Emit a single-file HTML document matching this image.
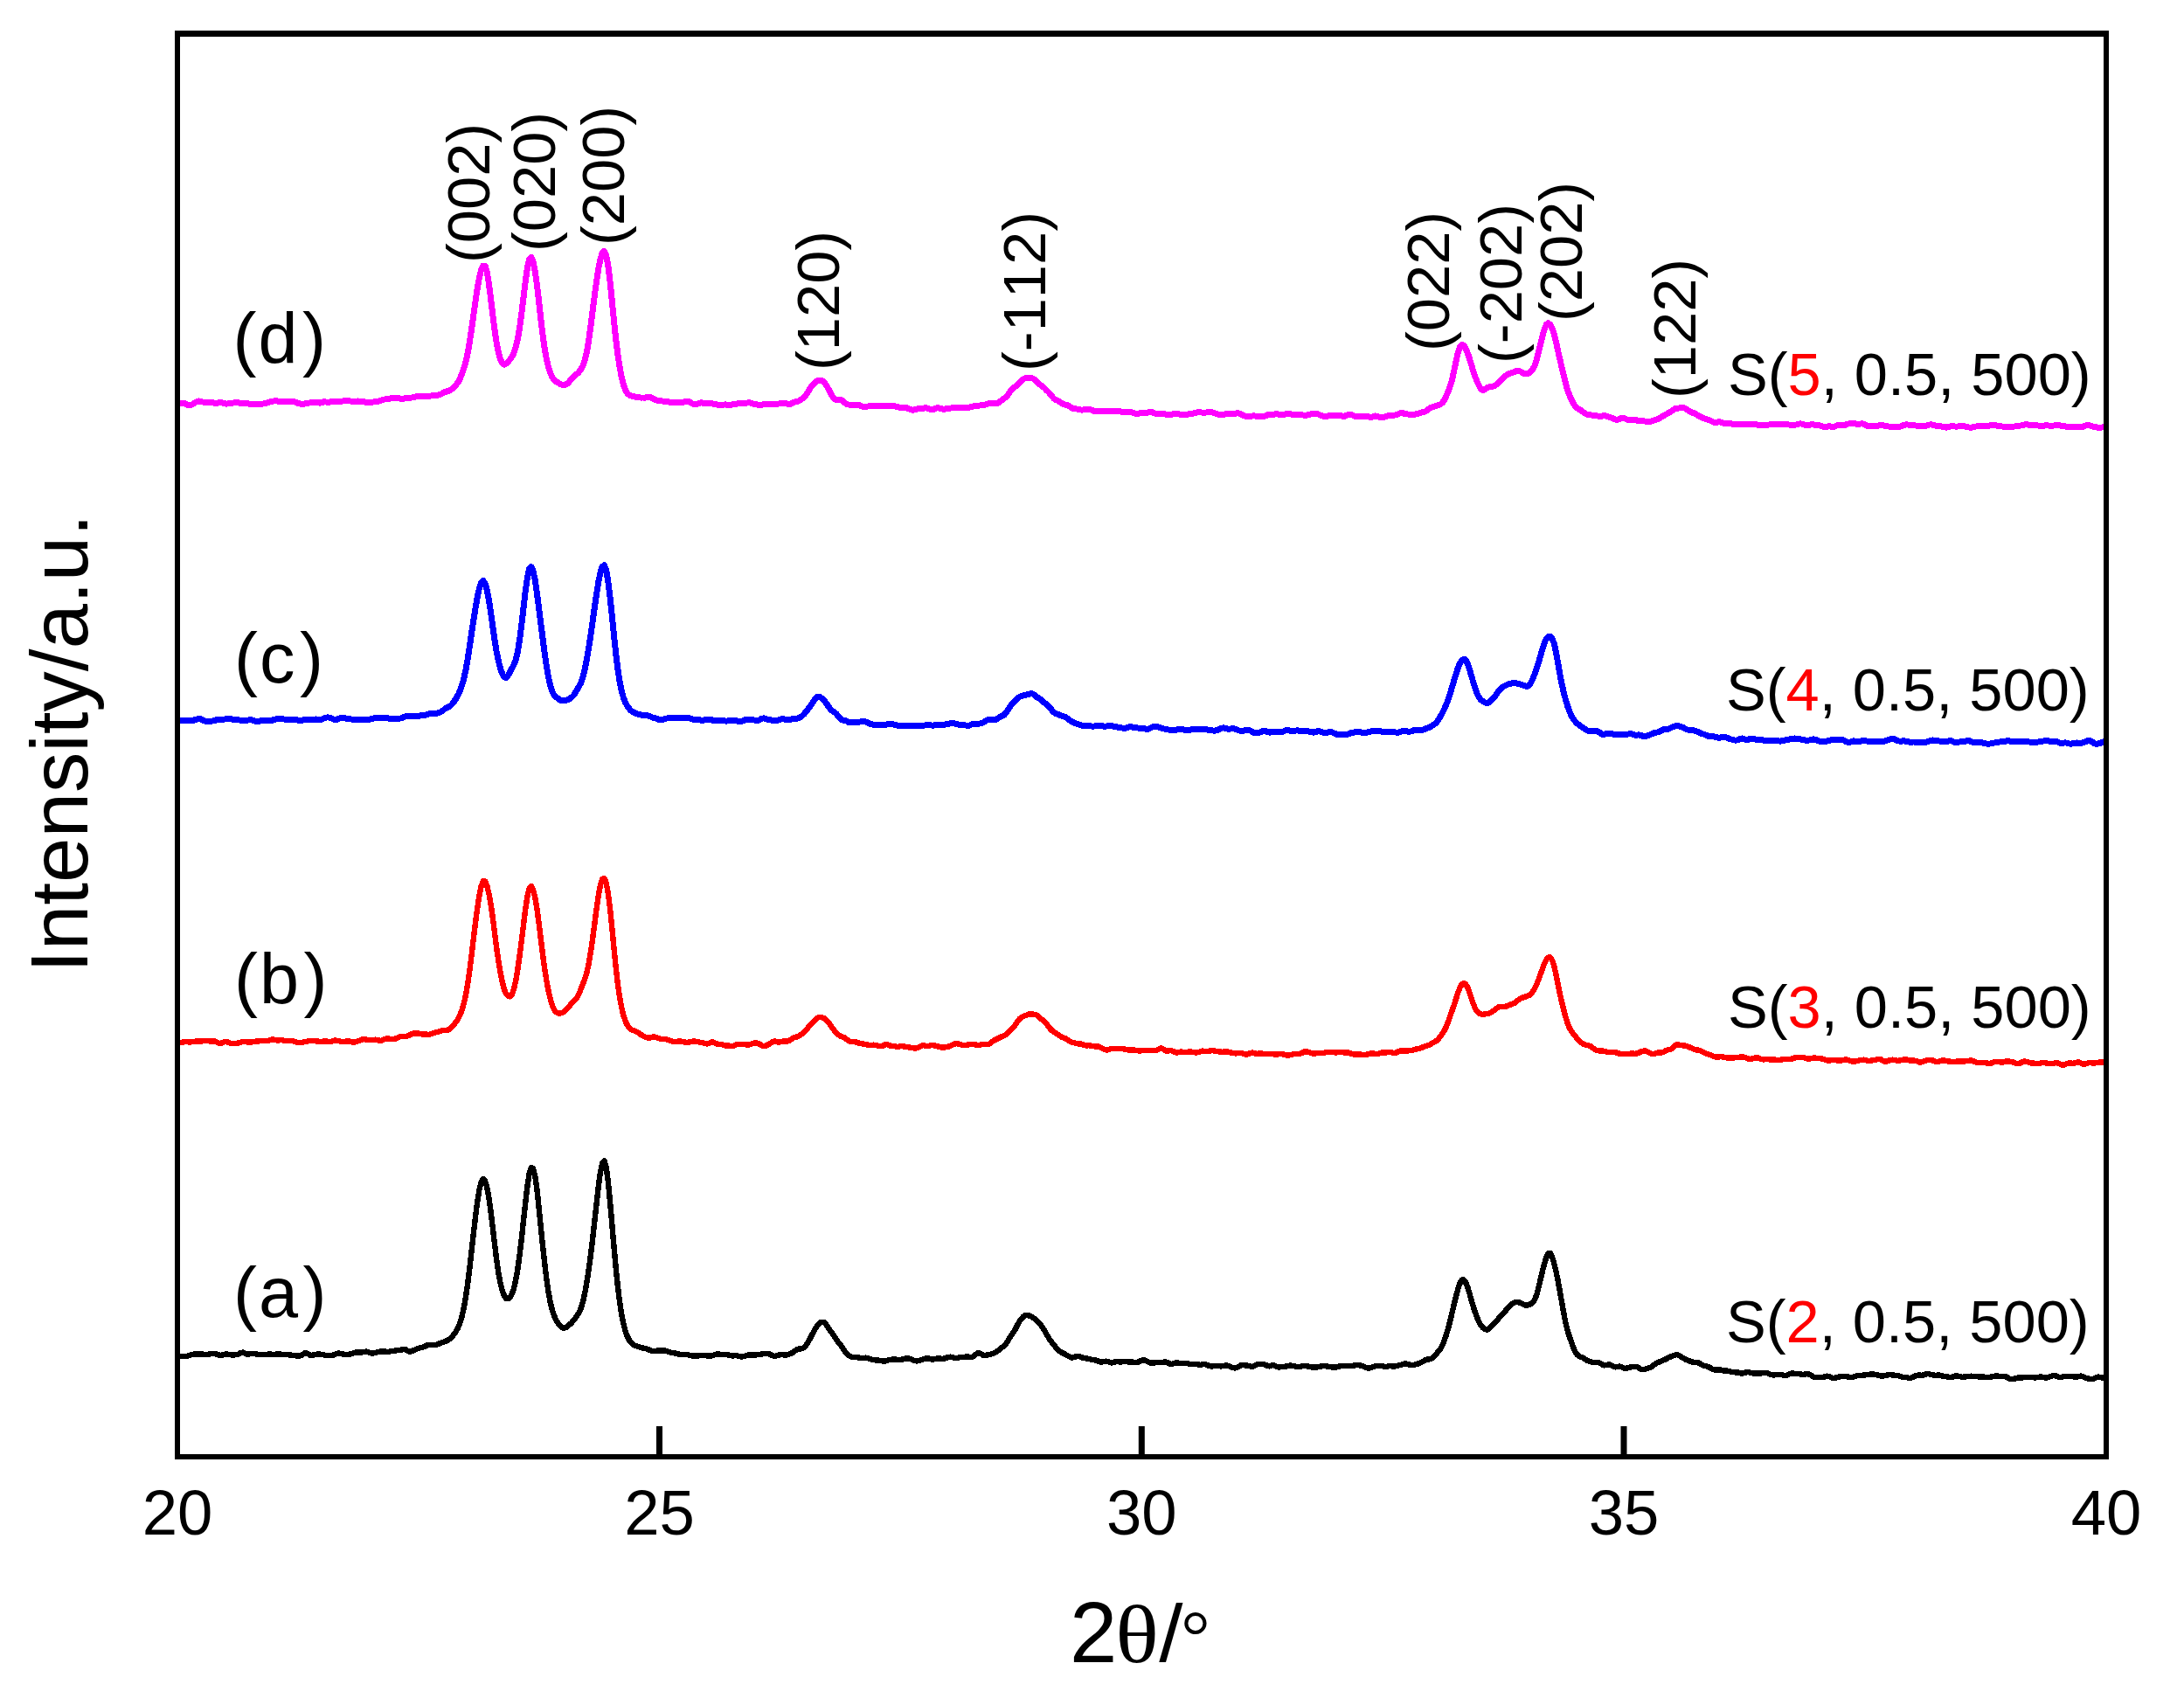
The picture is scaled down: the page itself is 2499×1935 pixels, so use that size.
<!DOCTYPE html>
<html lang="en"><head><meta charset="utf-8"><title>XRD patterns</title>
<style>
html,body{margin:0;padding:0;background:#fff;}
svg{display:block;}
text{font-family:"Liberation Sans",sans-serif;fill:#000;font-kerning:none;}
.ser{font-family:"Liberation Serif",serif;}
.r{fill:#f00;}
.cv{fill:none;stroke-linejoin:round;stroke-linecap:butt;shape-rendering:crispEdges;}
</style></head><body>
<svg width="2499" height="1935" viewBox="0 0 2499 1935">
<rect x="0" y="0" width="2499" height="1935" fill="#fff"/>

<g clip-path="url(#cp)">
<path class="cv" stroke="#000000" stroke-width="6.4" d="M203.0,1552.0 205.2,1552.0 207.4,1551.8 209.6,1551.9 211.8,1551.9 214.0,1551.7 216.2,1551.1 218.4,1550.4 220.6,1549.9 222.8,1549.4 225.0,1549.3 227.2,1549.4 229.4,1549.4 231.6,1549.5 233.8,1549.8 236.0,1550.0 238.2,1549.8 240.4,1549.4 242.6,1549.1 244.8,1548.9 247.0,1549.3 249.2,1550.1 251.4,1550.8 253.6,1550.8 255.8,1550.1 258.0,1549.5 260.2,1549.6 262.4,1550.1 264.6,1550.4 266.8,1550.4 269.0,1550.3 271.2,1550.1 273.4,1549.2 275.6,1548.0 277.8,1547.6 280.0,1548.4 282.2,1549.4 284.4,1549.6 286.6,1549.2 288.8,1548.7 291.0,1548.7 293.2,1549.4 295.4,1550.1 297.6,1550.3 299.8,1550.0 302.0,1549.8 304.2,1549.8 306.4,1549.7 308.6,1549.6 310.8,1549.7 313.0,1549.7 315.2,1549.7 317.4,1549.5 319.6,1549.5 321.8,1549.7 324.0,1549.9 326.2,1550.0 328.4,1550.2 330.6,1550.3 332.8,1550.6 335.0,1551.0 337.2,1551.2 339.4,1551.5 341.6,1551.7 343.8,1551.4 346.0,1550.1 348.2,1548.6 350.4,1548.4 352.6,1549.4 354.8,1550.6 357.0,1550.9 359.2,1550.4 361.4,1549.8 363.6,1549.5 365.8,1549.5 368.0,1549.8 370.2,1550.2 372.4,1550.8 374.6,1551.1 376.8,1551.0 379.0,1550.9 381.2,1550.6 383.4,1549.8 385.6,1548.9 387.8,1548.5 390.0,1548.9 392.2,1549.6 394.4,1549.8 396.6,1549.7 398.8,1549.7 401.0,1549.6 403.2,1549.0 405.4,1548.0 407.6,1547.5 409.8,1547.5 412.0,1547.7 414.2,1547.5 416.4,1547.0 418.6,1546.6 420.8,1546.9 423.0,1547.9 425.2,1548.6 427.4,1548.4 429.6,1547.8 431.8,1547.2 434.0,1546.8 436.2,1546.5 438.4,1546.4 440.6,1546.6 442.8,1546.9 445.0,1546.7 447.2,1546.3 449.4,1546.0 451.6,1545.7 453.8,1545.3 456.0,1545.0 458.2,1544.7 460.4,1544.3 462.6,1543.9 464.8,1544.6 467.0,1546.0 469.2,1546.7 471.4,1546.2 473.6,1545.0 475.8,1544.0 478.0,1543.2 480.2,1542.5 482.4,1542.0 484.6,1541.4 486.8,1540.4 489.0,1539.3 491.2,1539.1 493.4,1539.2 495.6,1539.3 497.8,1539.1 500.0,1538.6 502.2,1537.6 504.4,1536.6 506.6,1535.9 508.8,1535.2 511.0,1534.3 513.2,1533.1 515.4,1531.4 517.6,1529.1 519.8,1526.4 522.0,1523.3 524.2,1519.1 526.4,1513.5 528.6,1506.1 530.8,1496.4 533.0,1483.7 535.2,1468.4 537.4,1450.8 539.6,1431.5 541.8,1411.7 544.0,1392.5 546.2,1375.4 548.4,1361.6 550.6,1352.6 552.8,1348.9 555.0,1350.9 557.2,1358.5 559.4,1370.7 561.6,1386.7 563.8,1404.8 566.0,1423.5 568.2,1441.4 570.4,1456.7 572.6,1468.7 574.8,1477.2 577.0,1482.8 579.2,1485.8 581.4,1486.3 583.6,1484.6 585.8,1480.7 588.0,1474.2 590.2,1464.6 592.4,1452.0 594.6,1436.1 596.8,1417.3 599.0,1396.9 601.2,1376.4 603.4,1357.6 605.6,1343.3 607.8,1336.1 610.0,1336.9 612.2,1345.5 614.4,1361.0 616.6,1381.6 618.8,1404.0 621.0,1425.6 623.2,1445.6 625.4,1463.7 627.6,1478.9 629.8,1490.7 632.0,1499.4 634.2,1505.8 636.4,1510.6 638.6,1514.2 640.8,1517.2 643.0,1519.1 645.2,1519.7 647.4,1519.1 649.6,1517.5 651.8,1515.7 654.0,1513.6 656.2,1511.1 658.4,1508.2 660.6,1505.1 662.8,1501.6 665.0,1496.3 667.2,1488.7 669.4,1478.7 671.6,1466.4 673.8,1451.9 676.0,1435.4 678.2,1417.2 680.4,1397.4 682.6,1376.8 684.8,1357.2 687.0,1341.3 689.2,1331.1 691.4,1328.3 693.6,1335.4 695.8,1351.8 698.0,1374.4 700.2,1399.8 702.4,1425.3 704.6,1449.7 706.8,1471.3 709.0,1489.4 711.2,1503.7 713.4,1514.9 715.6,1523.3 717.8,1529.2 720.0,1533.5 722.2,1536.6 724.4,1538.7 726.6,1539.9 728.8,1540.5 731.0,1541.1 733.2,1541.9 735.4,1542.5 737.6,1542.8 739.8,1543.4 742.0,1544.3 744.2,1545.3 746.4,1545.8 748.6,1545.9 750.8,1545.7 753.0,1545.5 755.2,1545.6 757.4,1545.7 759.6,1545.5 761.8,1545.7 764.0,1546.4 766.2,1547.3 768.4,1547.9 770.6,1548.2 772.8,1548.6 775.0,1549.2 777.2,1549.7 779.4,1550.1 781.6,1550.1 783.8,1550.0 786.0,1550.0 788.2,1550.5 790.4,1551.1 792.6,1551.6 794.8,1551.7 797.0,1551.6 799.2,1551.4 801.4,1551.2 803.6,1551.1 805.8,1551.2 808.0,1551.3 810.2,1551.5 812.4,1551.7 814.6,1551.4 816.8,1550.7 819.0,1549.8 821.2,1549.4 823.4,1549.7 825.6,1550.2 827.8,1550.3 830.0,1550.0 832.2,1550.1 834.4,1550.8 836.6,1551.3 838.8,1551.4 841.0,1551.0 843.2,1551.2 845.4,1551.8 847.6,1552.4 849.8,1552.3 852.0,1551.7 854.2,1551.1 856.4,1550.5 858.6,1550.3 860.8,1550.3 863.0,1550.4 865.2,1550.4 867.4,1550.2 869.6,1549.8 871.8,1549.4 874.0,1549.1 876.2,1548.8 878.4,1548.8 880.6,1549.5 882.8,1550.7 885.0,1551.6 887.2,1551.8 889.4,1551.2 891.6,1550.5 893.8,1550.2 896.0,1550.3 898.2,1550.6 900.4,1550.3 902.6,1549.7 904.8,1548.9 907.0,1547.7 909.2,1546.0 911.4,1544.5 913.6,1543.7 915.8,1543.6 918.0,1543.1 920.2,1541.7 922.4,1539.3 924.6,1536.0 926.8,1532.0 929.0,1527.7 931.2,1523.3 933.4,1519.5 935.6,1516.3 937.8,1514.0 940.0,1512.7 942.2,1512.7 944.4,1514.4 946.6,1517.5 948.8,1521.0 951.0,1524.1 953.2,1527.1 955.4,1530.4 957.6,1533.7 959.8,1536.6 962.0,1539.4 964.2,1542.7 966.4,1545.9 968.6,1548.6 970.8,1550.8 973.0,1552.2 975.2,1552.8 977.4,1552.9 979.6,1553.1 981.8,1553.4 984.0,1553.8 986.2,1553.9 988.4,1553.8 990.6,1553.7 992.8,1554.2 995.0,1555.0 997.2,1555.6 999.4,1556.1 1001.6,1556.3 1003.8,1556.5 1006.0,1556.7 1008.2,1557.1 1010.4,1557.6 1012.6,1557.6 1014.8,1557.0 1017.0,1556.2 1019.2,1555.8 1021.4,1555.6 1023.6,1555.5 1025.8,1555.7 1028.0,1555.9 1030.2,1556.0 1032.4,1555.6 1034.6,1554.9 1036.8,1554.5 1039.0,1554.4 1041.2,1554.9 1043.4,1555.7 1045.6,1556.7 1047.8,1557.3 1050.0,1557.3 1052.2,1556.8 1054.4,1556.1 1056.6,1555.4 1058.8,1554.7 1061.0,1554.3 1063.2,1554.6 1065.4,1555.3 1067.6,1555.6 1069.8,1555.2 1072.0,1554.6 1074.2,1554.4 1076.4,1554.7 1078.6,1554.9 1080.8,1554.5 1083.0,1553.7 1085.2,1553.0 1087.4,1552.7 1089.6,1553.1 1091.8,1553.8 1094.0,1554.2 1096.2,1553.8 1098.4,1553.2 1100.6,1553.2 1102.8,1553.1 1105.0,1552.6 1107.2,1552.4 1109.4,1552.8 1111.6,1553.0 1113.8,1552.1 1116.0,1550.3 1118.2,1548.6 1120.4,1548.3 1122.6,1549.4 1124.8,1550.7 1127.0,1551.0 1129.2,1550.5 1131.4,1550.1 1133.6,1549.7 1135.8,1549.0 1138.0,1548.0 1140.2,1546.7 1142.4,1545.4 1144.6,1543.6 1146.8,1541.7 1149.0,1540.0 1151.2,1537.6 1153.4,1534.1 1155.6,1530.3 1157.8,1527.0 1160.0,1523.9 1162.2,1520.1 1164.4,1515.7 1166.6,1511.8 1168.8,1508.8 1171.0,1506.5 1173.2,1505.2 1175.4,1504.9 1177.6,1505.5 1179.8,1506.4 1182.0,1507.7 1184.2,1509.4 1186.4,1511.3 1188.6,1513.5 1190.8,1516.2 1193.0,1519.2 1195.2,1522.7 1197.4,1526.6 1199.6,1530.4 1201.8,1533.7 1204.0,1536.5 1206.2,1539.3 1208.4,1542.4 1210.6,1544.8 1212.8,1546.5 1215.0,1547.8 1217.2,1548.8 1219.4,1550.1 1221.6,1551.3 1223.8,1552.5 1226.0,1553.4 1228.2,1553.3 1230.4,1552.5 1232.6,1551.9 1234.8,1552.1 1237.0,1553.0 1239.2,1553.7 1241.4,1554.2 1243.6,1554.5 1245.8,1555.0 1248.0,1555.5 1250.2,1556.0 1252.4,1556.3 1254.6,1556.7 1256.8,1557.6 1259.0,1558.4 1261.2,1558.4 1263.4,1557.9 1265.6,1557.7 1267.8,1558.1 1270.0,1559.0 1272.2,1559.5 1274.4,1559.0 1276.6,1558.1 1278.8,1557.9 1281.0,1558.4 1283.2,1558.5 1285.4,1558.0 1287.6,1557.9 1289.8,1558.3 1292.0,1558.4 1294.2,1558.3 1296.4,1558.6 1298.6,1559.1 1300.8,1559.1 1303.0,1558.3 1305.2,1557.2 1307.4,1556.4 1309.6,1556.4 1311.8,1557.3 1314.0,1558.5 1316.2,1559.4 1318.4,1559.7 1320.6,1559.6 1322.8,1559.2 1325.0,1558.8 1327.2,1558.9 1329.4,1558.9 1331.6,1558.6 1333.8,1558.5 1336.0,1559.3 1338.2,1560.4 1340.4,1560.8 1342.6,1560.4 1344.8,1559.6 1347.0,1559.5 1349.2,1559.7 1351.4,1559.9 1353.6,1559.8 1355.8,1559.8 1358.0,1560.1 1360.2,1560.6 1362.4,1561.0 1364.6,1560.9 1366.8,1560.8 1369.0,1560.9 1371.2,1561.5 1373.4,1561.8 1375.6,1561.4 1377.8,1561.1 1380.0,1561.5 1382.2,1562.4 1384.4,1563.2 1386.6,1563.5 1388.8,1563.2 1391.0,1562.7 1393.2,1562.8 1395.4,1563.3 1397.6,1563.4 1399.8,1562.9 1402.0,1562.5 1404.2,1562.6 1406.4,1563.3 1408.6,1564.3 1410.8,1565.1 1413.0,1565.4 1415.2,1565.0 1417.4,1563.7 1419.6,1562.5 1421.8,1562.1 1424.0,1562.3 1426.2,1562.5 1428.4,1562.8 1430.6,1563.4 1432.8,1563.9 1435.0,1563.1 1437.2,1561.7 1439.4,1560.8 1441.6,1560.8 1443.8,1561.0 1446.0,1561.2 1448.2,1561.9 1450.4,1563.0 1452.6,1563.4 1454.8,1562.6 1457.0,1562.1 1459.2,1562.9 1461.4,1564.1 1463.6,1564.5 1465.8,1564.2 1468.0,1564.0 1470.2,1563.8 1472.4,1563.4 1474.6,1562.8 1476.8,1562.6 1479.0,1562.8 1481.2,1563.3 1483.4,1563.9 1485.6,1564.2 1487.8,1564.0 1490.0,1563.2 1492.2,1562.7 1494.4,1562.9 1496.6,1563.5 1498.8,1564.0 1501.0,1564.4 1503.2,1564.6 1505.4,1564.6 1507.6,1564.3 1509.8,1563.8 1512.0,1563.4 1514.2,1563.1 1516.4,1563.2 1518.6,1563.5 1520.8,1564.0 1523.0,1564.3 1525.2,1564.5 1527.4,1564.6 1529.6,1564.3 1531.8,1563.7 1534.0,1563.1 1536.2,1562.7 1538.4,1562.7 1540.6,1562.7 1542.8,1562.8 1545.0,1563.0 1547.2,1563.0 1549.4,1562.5 1551.6,1562.1 1553.8,1562.2 1556.0,1562.4 1558.2,1562.8 1560.4,1563.6 1562.6,1564.8 1564.8,1565.5 1567.0,1565.5 1569.2,1564.9 1571.4,1564.1 1573.6,1563.3 1575.8,1563.0 1578.0,1562.9 1580.2,1562.9 1582.4,1563.4 1584.6,1563.9 1586.8,1563.8 1589.0,1563.2 1591.2,1563.1 1593.4,1563.5 1595.6,1563.5 1597.8,1563.0 1600.0,1562.5 1602.2,1562.1 1604.4,1561.3 1606.6,1560.6 1608.8,1560.5 1611.0,1561.0 1613.2,1561.8 1615.4,1562.1 1617.6,1561.8 1619.8,1561.3 1622.0,1560.7 1624.2,1560.0 1626.4,1559.0 1628.6,1557.7 1630.8,1556.3 1633.0,1555.6 1635.2,1555.4 1637.4,1555.0 1639.6,1553.4 1641.8,1551.1 1644.0,1548.7 1646.2,1546.1 1648.4,1543.0 1650.6,1538.9 1652.8,1533.5 1655.0,1527.0 1657.2,1519.6 1659.4,1511.2 1661.6,1501.9 1663.8,1492.4 1666.0,1483.4 1668.2,1475.3 1670.4,1468.6 1672.6,1464.7 1674.8,1464.3 1677.0,1467.2 1679.2,1472.6 1681.4,1479.9 1683.6,1487.9 1685.8,1495.3 1688.0,1501.9 1690.2,1507.9 1692.4,1513.1 1694.6,1516.9 1696.8,1519.4 1699.0,1520.9 1701.2,1521.6 1703.4,1520.7 1705.6,1518.5 1707.8,1515.9 1710.0,1513.7 1712.2,1511.7 1714.4,1509.3 1716.6,1506.4 1718.8,1503.9 1721.0,1501.7 1723.2,1499.3 1725.4,1496.6 1727.6,1494.3 1729.8,1492.3 1732.0,1490.9 1734.2,1490.1 1736.4,1490.0 1738.6,1490.5 1740.8,1491.4 1743.0,1492.6 1745.2,1493.5 1747.4,1493.6 1749.6,1493.0 1751.8,1491.9 1754.0,1490.2 1756.2,1486.9 1758.4,1481.2 1760.6,1472.9 1762.8,1463.5 1765.0,1454.3 1767.2,1445.9 1769.4,1438.7 1771.6,1434.1 1773.8,1433.8 1776.0,1438.2 1778.2,1445.5 1780.4,1454.6 1782.6,1465.1 1784.8,1477.1 1787.0,1489.7 1789.2,1502.2 1791.4,1513.5 1793.6,1522.6 1795.8,1529.5 1798.0,1535.7 1800.2,1541.7 1802.4,1546.8 1804.6,1550.2 1806.8,1551.9 1809.0,1552.8 1811.2,1553.7 1813.4,1555.1 1815.6,1556.6 1817.8,1557.4 1820.0,1558.1 1822.2,1558.8 1824.4,1559.2 1826.6,1559.1 1828.8,1559.0 1831.0,1559.9 1833.2,1561.5 1835.4,1562.4 1837.6,1562.1 1839.8,1561.5 1842.0,1561.5 1844.2,1562.5 1846.4,1563.8 1848.6,1564.4 1850.8,1564.0 1853.0,1563.6 1855.2,1564.2 1857.4,1565.4 1859.6,1565.9 1861.8,1565.5 1864.0,1564.8 1866.2,1564.4 1868.4,1564.1 1870.6,1563.8 1872.8,1564.0 1875.0,1565.1 1877.2,1566.5 1879.4,1567.2 1881.6,1566.9 1883.8,1566.3 1886.0,1565.6 1888.2,1564.8 1890.4,1563.6 1892.6,1561.8 1894.8,1560.2 1897.0,1559.1 1899.2,1558.3 1901.4,1557.3 1903.6,1556.4 1905.8,1555.4 1908.0,1554.2 1910.2,1553.0 1912.4,1552.2 1914.6,1551.4 1916.8,1550.5 1919.0,1550.2 1921.2,1551.1 1923.4,1552.6 1925.6,1553.9 1927.8,1555.1 1930.0,1556.2 1932.2,1557.0 1934.4,1557.8 1936.6,1558.5 1938.8,1559.0 1941.0,1559.0 1943.2,1559.3 1945.4,1560.5 1947.6,1562.0 1949.8,1562.9 1952.0,1563.3 1954.2,1563.9 1956.4,1564.9 1958.6,1566.2 1960.8,1567.2 1963.0,1567.5 1965.2,1567.3 1967.4,1567.3 1969.6,1567.8 1971.8,1568.4 1974.0,1568.5 1976.2,1568.5 1978.4,1569.0 1980.6,1569.7 1982.8,1570.2 1985.0,1570.3 1987.2,1570.3 1989.4,1570.7 1991.6,1571.3 1993.8,1571.6 1996.0,1571.1 1998.2,1570.2 2000.4,1570.1 2002.6,1570.6 2004.8,1571.3 2007.0,1571.4 2009.2,1571.3 2011.4,1571.4 2013.6,1571.4 2015.8,1571.3 2018.0,1570.8 2020.2,1570.7 2022.4,1571.4 2024.6,1572.3 2026.8,1573.1 2029.0,1573.5 2031.2,1573.3 2033.4,1573.0 2035.6,1572.8 2037.8,1573.0 2040.0,1573.6 2042.2,1573.9 2044.4,1573.7 2046.6,1572.8 2048.8,1571.8 2051.0,1571.5 2053.2,1571.7 2055.4,1571.9 2057.6,1571.9 2059.8,1572.3 2062.0,1572.9 2064.2,1572.8 2066.4,1572.3 2068.6,1572.2 2070.8,1572.9 2073.0,1574.3 2075.2,1575.6 2077.4,1576.2 2079.6,1576.3 2081.8,1576.1 2084.0,1576.0 2086.2,1575.9 2088.4,1575.3 2090.6,1574.7 2092.8,1575.0 2095.0,1576.1 2097.2,1577.0 2099.4,1576.9 2101.6,1576.2 2103.8,1575.6 2106.0,1575.3 2108.2,1575.2 2110.4,1574.9 2112.6,1575.0 2114.8,1575.6 2117.0,1576.1 2119.2,1576.1 2121.4,1575.4 2123.6,1574.6 2125.8,1574.1 2128.0,1574.0 2130.2,1573.8 2132.4,1573.6 2134.6,1573.3 2136.8,1573.0 2139.0,1572.7 2141.2,1572.4 2143.4,1572.5 2145.6,1572.8 2147.8,1573.3 2150.0,1573.9 2152.2,1574.5 2154.4,1574.6 2156.6,1574.2 2158.8,1573.7 2161.0,1573.2 2163.2,1573.2 2165.4,1573.4 2167.6,1573.7 2169.8,1573.9 2172.0,1574.2 2174.2,1575.0 2176.4,1575.7 2178.6,1575.9 2180.8,1576.0 2183.0,1576.5 2185.2,1576.9 2187.4,1576.5 2189.6,1575.4 2191.8,1574.3 2194.0,1573.7 2196.2,1573.6 2198.4,1573.8 2200.6,1573.5 2202.8,1572.7 2205.0,1572.2 2207.2,1572.3 2209.4,1572.8 2211.6,1573.3 2213.8,1573.7 2216.0,1573.7 2218.2,1573.5 2220.4,1573.8 2222.6,1574.5 2224.8,1575.0 2227.0,1575.2 2229.2,1575.6 2231.4,1576.0 2233.6,1575.9 2235.8,1575.0 2238.0,1574.3 2240.2,1574.5 2242.4,1575.1 2244.6,1575.7 2246.8,1575.7 2249.0,1575.4 2251.2,1575.0 2253.4,1574.8 2255.6,1574.7 2257.8,1574.8 2260.0,1575.0 2262.2,1575.2 2264.4,1575.4 2266.6,1575.5 2268.8,1575.6 2271.0,1575.7 2273.2,1575.9 2275.4,1575.9 2277.6,1575.7 2279.8,1575.2 2282.0,1574.7 2284.2,1574.5 2286.4,1574.7 2288.6,1575.1 2290.8,1575.1 2293.0,1574.8 2295.2,1575.3 2297.4,1576.5 2299.6,1577.8 2301.8,1578.3 2304.0,1578.0 2306.2,1577.3 2308.4,1576.6 2310.6,1576.4 2312.8,1576.4 2315.0,1576.3 2317.2,1576.2 2319.4,1576.2 2321.6,1576.2 2323.8,1576.0 2326.0,1576.1 2328.2,1576.4 2330.4,1576.3 2332.6,1575.8 2334.8,1575.3 2337.0,1575.7 2339.2,1576.3 2341.4,1576.5 2343.6,1576.1 2345.8,1575.3 2348.0,1574.4 2350.2,1574.0 2352.4,1574.5 2354.6,1575.4 2356.8,1576.0 2359.0,1575.8 2361.2,1575.2 2363.4,1574.8 2365.6,1574.8 2367.8,1575.0 2370.0,1575.0 2372.2,1575.3 2374.4,1575.6 2376.6,1575.5 2378.8,1574.9 2381.0,1574.5 2383.2,1575.0 2385.4,1576.3 2387.6,1577.2 2389.8,1577.5 2392.0,1577.8 2394.2,1578.0 2396.4,1577.4 2398.6,1576.3 2400.8,1575.6 2403.0,1575.8 2405.2,1576.4 2407.4,1577.0 2409.6,1577.4"/>
<path class="cv" stroke="#ff0000" stroke-width="6.4" d="M203.0,1193.0 205.2,1193.4 207.4,1193.1 209.6,1192.5 211.8,1192.1 214.0,1192.2 216.2,1192.5 218.4,1192.4 220.6,1192.1 222.8,1191.8 225.0,1191.4 227.2,1191.3 229.4,1191.4 231.6,1191.4 233.8,1190.9 236.0,1190.7 238.2,1191.1 240.4,1191.6 242.6,1191.4 244.8,1191.3 247.0,1192.0 249.2,1193.3 251.4,1194.0 253.6,1193.5 255.8,1192.5 258.0,1192.1 260.2,1192.4 262.4,1193.2 264.6,1193.9 266.8,1194.2 269.0,1194.1 271.2,1193.8 273.4,1193.3 275.6,1192.6 277.8,1192.0 280.0,1192.0 282.2,1192.3 284.4,1192.5 286.6,1192.5 288.8,1192.3 291.0,1191.9 293.2,1191.6 295.4,1191.4 297.6,1191.3 299.8,1191.2 302.0,1191.2 304.2,1191.3 306.4,1191.0 308.6,1190.3 310.8,1189.6 313.0,1189.5 315.2,1190.1 317.4,1190.6 319.6,1190.4 321.8,1190.1 324.0,1190.5 326.2,1191.2 328.4,1191.3 330.6,1190.8 332.8,1190.7 335.0,1191.2 337.2,1192.0 339.4,1192.7 341.6,1193.2 343.8,1193.2 346.0,1192.7 348.2,1192.2 350.4,1191.9 352.6,1191.4 354.8,1190.9 357.0,1190.8 359.2,1191.1 361.4,1191.3 363.6,1191.6 365.8,1191.8 368.0,1191.9 370.2,1191.6 372.4,1191.3 374.6,1191.7 376.8,1192.3 379.0,1191.9 381.2,1190.9 383.4,1190.5 385.6,1190.8 387.8,1191.3 390.0,1191.7 392.2,1192.0 394.4,1191.9 396.6,1191.5 398.8,1191.4 401.0,1191.7 403.2,1192.4 405.4,1192.6 407.6,1192.2 409.8,1191.3 412.0,1190.5 414.2,1189.6 416.4,1189.2 418.6,1189.4 420.8,1189.9 423.0,1190.2 425.2,1190.1 427.4,1189.8 429.6,1189.7 431.8,1190.0 434.0,1190.7 436.2,1190.8 438.4,1189.9 440.6,1188.8 442.8,1188.3 445.0,1188.5 447.2,1189.0 449.4,1189.1 451.6,1188.9 453.8,1188.0 456.0,1186.8 458.2,1186.0 460.4,1186.0 462.6,1186.2 464.8,1186.0 467.0,1185.3 469.2,1184.2 471.4,1183.1 473.6,1182.5 475.8,1182.3 478.0,1182.4 480.2,1182.8 482.4,1183.3 484.6,1183.5 486.8,1183.6 489.0,1183.7 491.2,1183.7 493.4,1183.1 495.6,1182.1 497.8,1181.5 500.0,1181.1 502.2,1180.5 504.4,1179.6 506.6,1178.8 508.8,1178.7 511.0,1178.8 513.2,1178.4 515.4,1177.1 517.6,1174.8 519.8,1172.0 522.0,1169.0 524.2,1165.8 526.4,1161.4 528.6,1155.6 530.8,1148.1 533.0,1138.3 535.2,1125.7 537.4,1110.5 539.6,1093.0 541.8,1074.2 544.0,1055.8 546.2,1039.2 548.4,1025.2 550.6,1014.3 552.8,1008.3 555.0,1008.3 557.2,1013.4 559.4,1022.4 561.6,1034.6 563.8,1050.0 566.0,1067.5 568.2,1084.8 570.4,1099.9 572.6,1112.8 574.8,1123.8 577.0,1132.3 579.2,1137.4 581.4,1139.8 583.6,1140.3 585.8,1137.9 588.0,1131.8 590.2,1122.0 592.4,1109.0 594.6,1093.5 596.8,1076.4 599.0,1058.5 601.2,1040.9 603.4,1026.0 605.6,1016.5 607.8,1014.1 610.0,1018.1 612.2,1026.7 614.4,1039.7 616.6,1056.0 618.8,1074.0 621.0,1092.0 623.2,1108.4 625.4,1122.4 627.6,1133.9 629.8,1143.4 632.0,1150.7 634.2,1155.6 636.4,1158.3 638.6,1159.4 640.8,1159.6 643.0,1159.0 645.2,1157.8 647.4,1155.9 649.6,1153.4 651.8,1150.8 654.0,1148.4 656.2,1146.2 658.4,1143.8 660.6,1140.8 662.8,1136.5 665.0,1130.9 667.2,1125.3 669.4,1119.5 671.6,1112.2 673.8,1102.1 676.0,1089.0 678.2,1073.5 680.4,1056.7 682.6,1039.6 684.8,1024.1 687.0,1012.6 689.2,1006.1 691.4,1004.9 693.6,1010.1 695.8,1021.8 698.0,1039.1 700.2,1060.5 702.4,1083.9 704.6,1106.2 706.8,1125.2 709.0,1140.7 711.2,1152.9 713.4,1162.1 715.6,1168.6 717.8,1173.2 720.0,1176.4 722.2,1178.1 724.4,1179.0 726.6,1179.8 728.8,1180.7 731.0,1182.1 733.2,1183.8 735.4,1185.3 737.6,1186.4 739.8,1187.2 742.0,1187.7 744.2,1187.5 746.4,1186.7 748.6,1186.5 750.8,1187.0 753.0,1187.8 755.2,1188.6 757.4,1189.1 759.6,1189.3 761.8,1189.2 764.0,1189.7 766.2,1190.6 768.4,1191.4 770.6,1191.9 772.8,1191.9 775.0,1191.7 777.2,1191.6 779.4,1191.7 781.6,1192.2 783.8,1192.6 786.0,1192.8 788.2,1192.6 790.4,1192.0 792.6,1191.7 794.8,1191.5 797.0,1191.8 799.2,1192.3 801.4,1192.8 803.6,1193.2 805.8,1193.7 808.0,1194.3 810.2,1194.3 812.4,1193.2 814.6,1192.4 816.8,1192.8 819.0,1194.0 821.2,1194.7 823.4,1194.8 825.6,1195.1 827.8,1195.9 830.0,1196.5 832.2,1196.5 834.4,1196.6 836.6,1197.1 838.8,1197.0 841.0,1196.1 843.2,1195.1 845.4,1194.8 847.6,1194.8 849.8,1194.8 852.0,1195.1 854.2,1195.6 856.4,1195.7 858.6,1195.1 860.8,1194.3 863.0,1193.6 865.2,1193.4 867.4,1193.9 869.6,1195.0 871.8,1196.4 874.0,1197.0 876.2,1196.7 878.4,1195.7 880.6,1194.3 882.8,1192.9 885.0,1191.7 887.2,1191.6 889.4,1192.3 891.6,1192.6 893.8,1192.1 896.0,1191.4 898.2,1191.3 900.4,1191.5 902.6,1191.0 904.8,1189.7 907.0,1188.2 909.2,1187.0 911.4,1186.5 913.6,1185.9 915.8,1184.6 918.0,1182.7 920.2,1180.7 922.4,1178.7 924.6,1176.0 926.8,1173.0 929.0,1170.6 931.2,1168.5 933.4,1166.5 935.6,1164.7 937.8,1163.8 940.0,1164.1 942.2,1164.8 944.4,1166.2 946.6,1168.4 948.8,1171.2 951.0,1174.4 953.2,1177.4 955.4,1180.0 957.6,1182.3 959.8,1184.4 962.0,1185.9 964.2,1186.7 966.4,1187.5 968.6,1189.1 970.8,1190.9 973.0,1192.0 975.2,1192.1 977.4,1192.0 979.6,1192.5 981.8,1193.3 984.0,1193.9 986.2,1194.3 988.4,1194.7 990.6,1195.2 992.8,1195.6 995.0,1195.8 997.2,1195.8 999.4,1195.7 1001.6,1195.9 1003.8,1196.4 1006.0,1197.0 1008.2,1197.2 1010.4,1196.6 1012.6,1195.4 1014.8,1195.0 1017.0,1195.9 1019.2,1196.8 1021.4,1196.9 1023.6,1197.2 1025.8,1197.7 1028.0,1197.7 1030.2,1197.2 1032.4,1197.1 1034.6,1197.5 1036.8,1197.9 1039.0,1198.2 1041.2,1198.7 1043.4,1199.1 1045.6,1199.4 1047.8,1199.4 1050.0,1199.0 1052.2,1197.9 1054.4,1196.6 1056.6,1196.1 1058.8,1196.7 1061.0,1197.2 1063.2,1196.7 1065.4,1195.9 1067.6,1195.8 1069.8,1196.6 1072.0,1197.2 1074.2,1197.7 1076.4,1198.4 1078.6,1198.6 1080.8,1198.4 1083.0,1197.9 1085.2,1197.6 1087.4,1197.0 1089.6,1195.8 1091.8,1194.7 1094.0,1194.2 1096.2,1194.4 1098.4,1195.0 1100.6,1195.8 1102.8,1196.2 1105.0,1196.0 1107.2,1195.6 1109.4,1195.1 1111.6,1194.8 1113.8,1194.9 1116.0,1195.4 1118.2,1196.0 1120.4,1196.0 1122.6,1195.4 1124.8,1194.8 1127.0,1194.8 1129.2,1195.0 1131.4,1194.7 1133.6,1193.4 1135.8,1191.7 1138.0,1190.2 1140.2,1189.2 1142.4,1188.1 1144.6,1186.9 1146.8,1185.9 1149.0,1184.9 1151.2,1183.7 1153.4,1181.7 1155.6,1179.3 1157.8,1177.3 1160.0,1175.0 1162.2,1172.0 1164.4,1168.7 1166.6,1165.9 1168.8,1164.2 1171.0,1163.0 1173.2,1162.1 1175.4,1161.2 1177.6,1160.5 1179.8,1160.4 1182.0,1160.6 1184.2,1160.8 1186.4,1161.6 1188.6,1163.2 1190.8,1165.5 1193.0,1167.4 1195.2,1169.3 1197.4,1171.6 1199.6,1174.4 1201.8,1177.3 1204.0,1179.5 1206.2,1181.0 1208.4,1182.3 1210.6,1183.9 1212.8,1185.5 1215.0,1186.8 1217.2,1187.7 1219.4,1188.5 1221.6,1189.9 1223.8,1191.5 1226.0,1192.6 1228.2,1193.1 1230.4,1193.7 1232.6,1194.3 1234.8,1194.4 1237.0,1194.5 1239.2,1195.4 1241.4,1196.3 1243.6,1196.4 1245.8,1196.2 1248.0,1196.5 1250.2,1197.0 1252.4,1197.3 1254.6,1197.3 1256.8,1197.6 1259.0,1198.4 1261.2,1199.7 1263.4,1200.8 1265.6,1201.4 1267.8,1201.3 1270.0,1200.6 1272.2,1200.0 1274.4,1199.9 1276.6,1199.9 1278.8,1199.7 1281.0,1199.7 1283.2,1200.0 1285.4,1200.4 1287.6,1200.7 1289.8,1201.2 1292.0,1201.6 1294.2,1201.6 1296.4,1201.6 1298.6,1201.7 1300.8,1202.1 1303.0,1202.4 1305.2,1202.4 1307.4,1202.2 1309.6,1202.0 1311.8,1202.0 1314.0,1202.0 1316.2,1201.8 1318.4,1201.9 1320.6,1202.1 1322.8,1202.1 1325.0,1201.1 1327.2,1199.7 1329.4,1199.5 1331.6,1200.9 1333.8,1202.4 1336.0,1202.7 1338.2,1202.1 1340.4,1202.1 1342.6,1203.1 1344.8,1204.3 1347.0,1204.5 1349.2,1203.9 1351.4,1203.5 1353.6,1203.9 1355.8,1204.3 1358.0,1204.0 1360.2,1203.6 1362.4,1203.5 1364.6,1203.8 1366.8,1204.3 1369.0,1204.5 1371.2,1204.1 1373.4,1203.2 1375.6,1202.6 1377.8,1202.8 1380.0,1203.1 1382.2,1203.0 1384.4,1202.6 1386.6,1202.2 1388.8,1202.3 1391.0,1202.8 1393.2,1203.1 1395.4,1203.4 1397.6,1203.7 1399.8,1203.7 1402.0,1203.4 1404.2,1203.3 1406.4,1203.9 1408.6,1204.6 1410.8,1205.0 1413.0,1205.3 1415.2,1205.3 1417.4,1205.0 1419.6,1205.0 1421.8,1205.5 1424.0,1206.3 1426.2,1206.6 1428.4,1206.0 1430.6,1205.0 1432.8,1204.6 1435.0,1205.2 1437.2,1205.7 1439.4,1205.7 1441.6,1205.5 1443.8,1205.5 1446.0,1205.8 1448.2,1206.0 1450.4,1206.1 1452.6,1205.8 1454.8,1205.8 1457.0,1206.3 1459.2,1206.7 1461.4,1206.5 1463.6,1205.8 1465.8,1205.7 1468.0,1206.3 1470.2,1207.1 1472.4,1207.5 1474.6,1207.5 1476.8,1207.2 1479.0,1206.4 1481.2,1205.7 1483.4,1205.7 1485.6,1206.0 1487.8,1205.7 1490.0,1204.7 1492.2,1203.6 1494.4,1203.3 1496.6,1203.6 1498.8,1204.3 1501.0,1205.2 1503.2,1205.7 1505.4,1205.4 1507.6,1204.8 1509.8,1204.8 1512.0,1205.2 1514.2,1205.1 1516.4,1204.3 1518.6,1203.9 1520.8,1203.9 1523.0,1204.1 1525.2,1204.2 1527.4,1204.3 1529.6,1204.3 1531.8,1204.0 1534.0,1203.8 1536.2,1204.2 1538.4,1204.5 1540.6,1204.5 1542.8,1204.6 1545.0,1205.3 1547.2,1206.1 1549.4,1206.5 1551.6,1206.4 1553.8,1206.4 1556.0,1206.5 1558.2,1206.7 1560.4,1206.9 1562.6,1206.9 1564.8,1206.5 1567.0,1205.9 1569.2,1205.4 1571.4,1205.4 1573.6,1205.8 1575.8,1206.1 1578.0,1205.6 1580.2,1204.7 1582.4,1204.4 1584.6,1204.4 1586.8,1204.3 1589.0,1203.9 1591.2,1204.1 1593.4,1204.7 1595.6,1204.9 1597.8,1204.4 1600.0,1203.2 1602.2,1202.3 1604.4,1202.3 1606.6,1202.5 1608.8,1202.6 1611.0,1202.4 1613.2,1202.2 1615.4,1201.9 1617.6,1201.3 1619.8,1200.7 1622.0,1200.3 1624.2,1199.9 1626.4,1199.1 1628.6,1198.0 1630.8,1197.1 1633.0,1196.5 1635.2,1195.8 1637.4,1194.6 1639.6,1193.3 1641.8,1192.1 1644.0,1190.7 1646.2,1188.5 1648.4,1185.7 1650.6,1182.6 1652.8,1179.0 1655.0,1174.5 1657.2,1168.8 1659.4,1162.5 1661.6,1156.3 1663.8,1149.9 1666.0,1143.0 1668.2,1136.2 1670.4,1130.5 1672.6,1126.5 1674.8,1124.8 1677.0,1126.1 1679.2,1129.8 1681.4,1135.3 1683.6,1141.9 1685.8,1148.6 1688.0,1154.0 1690.2,1157.4 1692.4,1159.4 1694.6,1160.5 1696.8,1160.8 1699.0,1160.5 1701.2,1160.1 1703.4,1159.7 1705.6,1158.9 1707.8,1157.5 1710.0,1155.8 1712.2,1153.9 1714.4,1152.5 1716.6,1152.0 1718.8,1152.0 1721.0,1152.1 1723.2,1151.6 1725.4,1150.7 1727.6,1149.9 1729.8,1149.0 1732.0,1148.3 1734.2,1147.0 1736.4,1144.9 1738.6,1143.2 1740.8,1142.1 1743.0,1141.3 1745.2,1140.6 1747.4,1139.8 1749.6,1139.0 1751.8,1137.3 1754.0,1134.5 1756.2,1130.7 1758.4,1126.0 1760.6,1120.6 1762.8,1114.5 1765.0,1108.3 1767.2,1102.5 1769.4,1098.0 1771.6,1095.5 1773.8,1095.5 1776.0,1098.6 1778.2,1105.1 1780.4,1114.6 1782.6,1125.9 1784.8,1136.8 1787.0,1146.5 1789.2,1155.4 1791.4,1163.6 1793.6,1170.8 1795.8,1176.1 1798.0,1179.9 1800.2,1182.9 1802.4,1185.5 1804.6,1188.5 1806.8,1191.2 1809.0,1193.0 1811.2,1194.3 1813.4,1195.4 1815.6,1196.1 1817.8,1196.4 1820.0,1197.1 1822.2,1198.8 1824.4,1200.6 1826.6,1201.8 1828.8,1202.3 1831.0,1202.4 1833.2,1202.5 1835.4,1202.9 1837.6,1203.4 1839.8,1204.0 1842.0,1204.1 1844.2,1204.0 1846.4,1204.0 1848.6,1204.2 1850.8,1204.9 1853.0,1205.7 1855.2,1206.2 1857.4,1206.1 1859.6,1206.0 1861.8,1206.1 1864.0,1205.9 1866.2,1205.6 1868.4,1205.6 1870.6,1205.8 1872.8,1205.6 1875.0,1204.7 1877.2,1203.6 1879.4,1202.8 1881.6,1202.4 1883.8,1202.8 1886.0,1203.8 1888.2,1205.1 1890.4,1205.9 1892.6,1205.9 1894.8,1205.2 1897.0,1204.6 1899.2,1204.6 1901.4,1204.5 1903.6,1203.6 1905.8,1202.4 1908.0,1201.4 1910.2,1201.1 1912.4,1200.2 1914.6,1198.1 1916.8,1196.1 1919.0,1195.2 1921.2,1195.6 1923.4,1196.1 1925.6,1196.3 1927.8,1196.5 1930.0,1197.1 1932.2,1198.0 1934.4,1198.9 1936.6,1199.9 1938.8,1200.8 1941.0,1201.4 1943.2,1201.7 1945.4,1202.3 1947.6,1203.3 1949.8,1204.4 1952.0,1205.4 1954.2,1206.2 1956.4,1206.9 1958.6,1207.8 1960.8,1208.9 1963.0,1209.5 1965.2,1209.6 1967.4,1209.3 1969.6,1209.2 1971.8,1209.6 1974.0,1210.1 1976.2,1210.4 1978.4,1210.4 1980.6,1210.5 1982.8,1210.4 1985.0,1210.3 1987.2,1210.1 1989.4,1209.8 1991.6,1209.5 1993.8,1209.4 1996.0,1209.8 1998.2,1210.6 2000.4,1211.5 2002.6,1211.8 2004.8,1211.4 2007.0,1210.9 2009.2,1210.4 2011.4,1210.5 2013.6,1211.4 2015.8,1212.2 2018.0,1212.4 2020.2,1212.1 2022.4,1212.0 2024.6,1212.4 2026.8,1212.5 2029.0,1212.4 2031.2,1212.6 2033.4,1213.1 2035.6,1213.3 2037.8,1212.7 2040.0,1212.2 2042.2,1212.1 2044.4,1212.1 2046.6,1212.1 2048.8,1212.0 2051.0,1211.4 2053.2,1210.6 2055.4,1210.2 2057.6,1210.2 2059.8,1210.1 2062.0,1210.0 2064.2,1210.3 2066.4,1210.9 2068.6,1211.5 2070.8,1211.5 2073.0,1210.9 2075.2,1210.5 2077.4,1210.6 2079.6,1211.0 2081.8,1211.2 2084.0,1211.4 2086.2,1212.0 2088.4,1212.7 2090.6,1213.4 2092.8,1213.6 2095.0,1213.3 2097.2,1213.1 2099.4,1213.1 2101.6,1213.4 2103.8,1213.6 2106.0,1213.7 2108.2,1213.3 2110.4,1212.6 2112.6,1212.4 2114.8,1213.1 2117.0,1214.0 2119.2,1214.5 2121.4,1214.6 2123.6,1214.4 2125.8,1213.9 2128.0,1213.3 2130.2,1212.8 2132.4,1212.7 2134.6,1213.0 2136.8,1213.7 2139.0,1213.9 2141.2,1213.6 2143.4,1213.2 2145.6,1212.9 2147.8,1212.3 2150.0,1211.7 2152.2,1212.2 2154.4,1213.6 2156.6,1214.7 2158.8,1214.6 2161.0,1213.7 2163.2,1212.9 2165.4,1212.7 2167.6,1213.0 2169.8,1213.5 2172.0,1213.8 2174.2,1213.5 2176.4,1212.9 2178.6,1212.3 2180.8,1212.4 2183.0,1212.9 2185.2,1213.5 2187.4,1213.7 2189.6,1213.6 2191.8,1213.9 2194.0,1214.6 2196.2,1215.4 2198.4,1215.5 2200.6,1214.7 2202.8,1213.8 2205.0,1213.3 2207.2,1213.1 2209.4,1213.0 2211.6,1213.5 2213.8,1214.5 2216.0,1215.1 2218.2,1214.7 2220.4,1214.0 2222.6,1213.5 2224.8,1213.5 2227.0,1213.9 2229.2,1214.4 2231.4,1214.7 2233.6,1214.8 2235.8,1215.0 2238.0,1214.8 2240.2,1214.4 2242.4,1214.4 2244.6,1214.6 2246.8,1214.6 2249.0,1214.3 2251.2,1214.0 2253.4,1213.7 2255.6,1213.5 2257.8,1214.2 2260.0,1215.3 2262.2,1216.0 2264.4,1216.0 2266.6,1215.9 2268.8,1216.0 2271.0,1216.2 2273.2,1216.5 2275.4,1216.9 2277.6,1216.8 2279.8,1216.1 2282.0,1215.1 2284.2,1214.7 2286.4,1214.9 2288.6,1215.3 2290.8,1215.6 2293.0,1215.2 2295.2,1214.5 2297.4,1214.3 2299.6,1214.8 2301.8,1215.2 2304.0,1215.6 2306.2,1216.5 2308.4,1217.3 2310.6,1217.0 2312.8,1215.8 2315.0,1214.8 2317.2,1214.5 2319.4,1215.0 2321.6,1215.9 2323.8,1216.4 2326.0,1216.5 2328.2,1216.8 2330.4,1217.2 2332.6,1217.2 2334.8,1216.6 2337.0,1216.1 2339.2,1216.1 2341.4,1216.5 2343.6,1216.8 2345.8,1217.1 2348.0,1217.2 2350.2,1216.8 2352.4,1216.2 2354.6,1216.4 2356.8,1217.4 2359.0,1218.4 2361.2,1218.6 2363.4,1217.8 2365.6,1216.8 2367.8,1216.4 2370.0,1216.6 2372.2,1216.8 2374.4,1216.3 2376.6,1215.6 2378.8,1215.5 2381.0,1216.4 2383.2,1217.6 2385.4,1217.8 2387.6,1217.1 2389.8,1216.3 2392.0,1216.1 2394.2,1216.4 2396.4,1216.4 2398.6,1216.2 2400.8,1215.8 2403.0,1215.5 2405.2,1215.5 2407.4,1215.6 2409.6,1216.0"/>
<path class="cv" stroke="#0000ff" stroke-width="7.0" d="M203.0,825.1 205.2,825.0 207.4,824.9 209.6,825.0 211.8,824.8 214.0,824.7 216.2,824.9 218.4,825.0 220.6,824.5 222.8,823.7 225.0,823.1 227.2,822.7 229.4,822.8 231.6,823.8 233.8,824.9 236.0,825.4 238.2,825.2 240.4,825.0 242.6,825.1 244.8,824.7 247.0,824.0 249.2,823.4 251.4,823.2 253.6,823.3 255.8,823.3 258.0,822.8 260.2,822.4 262.4,822.3 264.6,822.8 266.8,823.4 269.0,823.8 271.2,823.8 273.4,823.9 275.6,824.2 277.8,824.7 280.0,824.8 282.2,824.4 284.4,823.9 286.6,823.7 288.8,824.1 291.0,824.9 293.2,825.6 295.4,825.7 297.6,825.0 299.8,824.3 302.0,824.3 304.2,824.8 306.4,824.9 308.6,824.7 310.8,824.4 313.0,823.7 315.2,823.1 317.4,822.7 319.6,822.7 321.8,822.6 324.0,822.8 326.2,823.3 328.4,823.7 330.6,823.6 332.8,823.3 335.0,823.2 337.2,823.3 339.4,823.8 341.6,824.5 343.8,824.7 346.0,824.3 348.2,823.6 350.4,823.1 352.6,823.1 354.8,823.3 357.0,823.5 359.2,823.3 361.4,823.0 363.6,823.3 365.8,823.6 368.0,823.2 370.2,822.1 372.4,821.2 374.6,820.9 376.8,821.1 379.0,821.8 381.2,822.8 383.4,823.5 385.6,823.2 387.8,822.2 390.0,821.3 392.2,821.2 394.4,821.8 396.6,822.4 398.8,822.7 401.0,822.9 403.2,823.1 405.4,823.5 407.6,823.8 409.8,823.6 412.0,823.2 414.2,823.2 416.4,823.5 418.6,823.8 420.8,823.8 423.0,823.3 425.2,822.6 427.4,821.9 429.6,821.7 431.8,821.6 434.0,821.6 436.2,821.6 438.4,821.6 440.6,821.7 442.8,821.8 445.0,822.1 447.2,822.4 449.4,822.4 451.6,822.4 453.8,822.4 456.0,822.3 458.2,822.0 460.4,821.2 462.6,820.3 464.8,819.7 467.0,819.6 469.2,819.7 471.4,819.4 473.6,819.4 475.8,819.8 478.0,819.8 480.2,819.1 482.4,818.4 484.6,818.2 486.8,818.2 489.0,817.6 491.2,816.6 493.4,816.0 495.6,816.0 497.8,816.2 500.0,816.2 502.2,815.6 504.4,814.5 506.6,813.1 508.8,811.4 511.0,809.9 513.2,808.8 515.4,807.6 517.6,805.4 519.8,802.4 522.0,799.0 524.2,795.1 526.4,790.2 528.6,784.2 530.8,776.5 533.0,766.3 535.2,753.8 537.4,739.5 539.6,724.5 541.8,709.9 544.0,696.1 546.2,683.7 548.4,673.3 550.6,666.5 552.8,664.5 555.0,667.5 557.2,675.1 559.4,686.6 561.6,700.9 563.8,716.7 566.0,732.4 568.2,745.9 570.4,756.7 572.6,765.0 574.8,771.3 577.0,774.9 579.2,775.3 581.4,772.8 583.6,768.7 585.8,764.7 588.0,760.6 590.2,754.9 592.4,745.6 594.6,732.1 596.8,715.0 599.0,695.7 601.2,676.7 603.4,661.0 605.6,651.1 607.8,648.7 610.0,653.1 612.2,663.6 614.4,678.6 616.6,695.6 618.8,713.1 621.0,730.4 623.2,747.5 625.4,762.7 627.6,775.1 629.8,784.8 632.0,791.6 634.2,795.7 636.4,797.7 638.6,799.3 640.8,800.9 643.0,801.8 645.2,801.9 647.4,801.5 649.6,800.7 651.8,799.5 654.0,798.0 656.2,795.8 658.4,792.5 660.6,788.6 662.8,785.0 665.0,780.8 667.2,774.2 669.4,764.8 671.6,753.4 673.8,740.5 676.0,726.2 678.2,710.5 680.4,694.6 682.6,679.5 684.8,665.9 687.0,655.1 689.2,648.3 691.4,646.8 693.6,652.4 695.8,665.0 698.0,682.9 700.2,704.0 702.4,726.0 704.6,746.9 706.8,765.0 709.0,779.5 711.2,790.5 713.4,798.4 715.6,803.9 717.8,807.9 720.0,811.0 722.2,813.3 724.4,814.8 726.6,815.9 728.8,816.7 731.0,817.3 733.2,817.9 735.4,818.6 737.6,818.9 739.8,818.7 742.0,819.0 744.2,819.9 746.4,820.9 748.6,821.5 750.8,822.2 753.0,823.0 755.2,823.7 757.4,823.6 759.6,822.9 761.8,822.2 764.0,821.8 766.2,821.9 768.4,822.0 770.6,821.7 772.8,821.1 775.0,821.0 777.2,821.4 779.4,821.7 781.6,821.8 783.8,821.7 786.0,821.7 788.2,821.8 790.4,822.2 792.6,823.0 794.8,823.4 797.0,823.4 799.2,823.6 801.4,824.0 803.6,824.3 805.8,824.0 808.0,823.5 810.2,823.1 812.4,823.1 814.6,823.8 816.8,824.7 819.0,824.9 821.2,824.6 823.4,824.2 825.6,824.1 827.8,824.5 830.0,825.0 832.2,825.0 834.4,824.9 836.6,824.6 838.8,824.2 841.0,824.2 843.2,824.9 845.4,825.8 847.6,825.9 849.8,824.9 852.0,823.9 854.2,823.4 856.4,823.6 858.6,823.8 860.8,823.8 863.0,824.0 865.2,824.5 867.4,824.5 869.6,823.5 871.8,822.2 874.0,821.9 876.2,822.7 878.4,823.4 880.6,823.8 882.8,824.0 885.0,824.5 887.2,824.9 889.4,824.6 891.6,823.6 893.8,822.8 896.0,822.7 898.2,823.2 900.4,823.5 902.6,823.5 904.8,823.2 907.0,822.6 909.2,822.3 911.4,822.2 913.6,821.8 915.8,820.8 918.0,819.0 920.2,816.9 922.4,814.3 924.6,811.5 926.8,808.5 929.0,805.3 931.2,802.1 933.4,799.1 935.6,797.2 937.8,797.2 940.0,798.8 942.2,800.9 944.4,803.2 946.6,806.3 948.8,809.7 951.0,812.3 953.2,814.0 955.4,815.4 957.6,817.5 959.8,820.4 962.0,822.8 964.2,824.0 966.4,824.4 968.6,825.1 970.8,826.3 973.0,826.8 975.2,826.6 977.4,826.3 979.6,826.3 981.8,826.2 984.0,826.0 986.2,825.9 988.4,825.8 990.6,826.0 992.8,826.8 995.0,828.0 997.2,828.8 999.4,829.1 1001.6,829.3 1003.8,829.8 1006.0,829.9 1008.2,829.8 1010.4,829.7 1012.6,829.6 1014.8,829.0 1017.0,828.4 1019.2,828.3 1021.4,828.7 1023.6,829.2 1025.8,829.9 1028.0,830.4 1030.2,830.6 1032.4,830.2 1034.6,830.1 1036.8,830.5 1039.0,831.0 1041.2,830.8 1043.4,830.4 1045.6,830.2 1047.8,830.2 1050.0,830.3 1052.2,830.4 1054.4,830.5 1056.6,830.3 1058.8,829.9 1061.0,829.6 1063.2,829.8 1065.4,830.0 1067.6,830.1 1069.8,829.9 1072.0,829.8 1074.2,829.8 1076.4,829.8 1078.6,829.6 1080.8,829.3 1083.0,828.7 1085.2,828.2 1087.4,827.9 1089.6,827.9 1091.8,827.9 1094.0,828.2 1096.2,829.0 1098.4,829.7 1100.6,829.9 1102.8,829.7 1105.0,830.0 1107.2,830.4 1109.4,830.1 1111.6,829.0 1113.8,828.1 1116.0,828.0 1118.2,828.2 1120.4,828.1 1122.6,827.8 1124.8,827.0 1127.0,825.5 1129.2,824.1 1131.4,823.5 1133.6,823.7 1135.8,824.0 1138.0,823.9 1140.2,823.0 1142.4,821.5 1144.6,820.2 1146.8,819.3 1149.0,818.1 1151.2,815.6 1153.4,812.1 1155.6,808.8 1157.8,805.9 1160.0,803.5 1162.2,801.2 1164.4,799.1 1166.6,797.5 1168.8,796.4 1171.0,795.8 1173.2,795.4 1175.4,794.8 1177.6,794.2 1179.8,793.7 1182.0,794.2 1184.2,795.9 1186.4,797.7 1188.6,799.0 1190.8,800.4 1193.0,802.3 1195.2,804.4 1197.4,806.0 1199.6,807.8 1201.8,810.4 1204.0,813.1 1206.2,815.4 1208.4,816.7 1210.6,817.4 1212.8,818.3 1215.0,819.1 1217.2,819.9 1219.4,820.8 1221.6,822.3 1223.8,824.1 1226.0,825.5 1228.2,826.7 1230.4,827.7 1232.6,828.5 1234.8,829.0 1237.0,829.7 1239.2,830.6 1241.4,831.0 1243.6,830.6 1245.8,830.4 1248.0,830.9 1250.2,831.1 1252.4,831.0 1254.6,830.9 1256.8,830.7 1259.0,830.7 1261.2,830.8 1263.4,831.2 1265.6,831.1 1267.8,830.7 1270.0,830.6 1272.2,830.8 1274.4,831.2 1276.6,831.6 1278.8,832.0 1281.0,832.5 1283.2,832.9 1285.4,833.2 1287.6,833.2 1289.8,832.6 1292.0,831.8 1294.2,831.6 1296.4,832.3 1298.6,832.9 1300.8,832.9 1303.0,833.1 1305.2,833.4 1307.4,833.5 1309.6,833.7 1311.8,834.3 1314.0,834.3 1316.2,833.2 1318.4,832.1 1320.6,831.6 1322.8,831.7 1325.0,831.9 1327.2,832.5 1329.4,833.3 1331.6,833.9 1333.8,834.5 1336.0,834.9 1338.2,835.1 1340.4,835.2 1342.6,835.5 1344.8,835.6 1347.0,834.8 1349.2,834.0 1351.4,834.0 1353.6,834.7 1355.8,835.3 1358.0,835.4 1360.2,835.3 1362.4,835.0 1364.6,834.7 1366.8,834.5 1369.0,834.6 1371.2,834.7 1373.4,834.6 1375.6,834.3 1377.8,834.2 1380.0,834.6 1382.2,835.1 1384.4,835.4 1386.6,835.8 1388.8,836.1 1391.0,836.0 1393.2,835.4 1395.4,834.3 1397.6,833.3 1399.8,832.9 1402.0,833.3 1404.2,834.0 1406.4,834.1 1408.6,834.0 1410.8,833.8 1413.0,834.1 1415.2,835.0 1417.4,835.9 1419.6,836.3 1421.8,836.3 1424.0,835.9 1426.2,835.4 1428.4,835.2 1430.6,835.9 1432.8,837.3 1435.0,838.4 1437.2,838.7 1439.4,838.7 1441.6,838.1 1443.8,837.0 1446.0,836.2 1448.2,836.5 1450.4,837.6 1452.6,838.1 1454.8,837.9 1457.0,837.5 1459.2,837.3 1461.4,837.2 1463.6,837.3 1465.8,837.5 1468.0,837.1 1470.2,836.2 1472.4,835.5 1474.6,835.6 1476.8,836.4 1479.0,836.8 1481.2,836.4 1483.4,835.9 1485.6,836.0 1487.8,836.2 1490.0,836.4 1492.2,836.5 1494.4,836.8 1496.6,836.9 1498.8,837.2 1501.0,837.8 1503.2,838.1 1505.4,837.7 1507.6,836.8 1509.8,836.7 1512.0,837.3 1514.2,838.2 1516.4,838.5 1518.6,838.3 1520.8,837.8 1523.0,837.6 1525.2,838.3 1527.4,839.4 1529.6,840.2 1531.8,840.4 1534.0,840.5 1536.2,840.6 1538.4,840.8 1540.6,840.7 1542.8,840.0 1545.0,839.0 1547.2,838.3 1549.4,838.1 1551.6,837.5 1553.8,837.1 1556.0,837.4 1558.2,838.1 1560.4,838.5 1562.6,838.3 1564.8,838.0 1567.0,837.4 1569.2,836.8 1571.4,836.6 1573.6,836.7 1575.8,836.7 1578.0,836.8 1580.2,836.9 1582.4,837.3 1584.6,837.8 1586.8,838.0 1589.0,837.7 1591.2,837.4 1593.4,837.5 1595.6,837.8 1597.8,838.1 1600.0,838.1 1602.2,837.6 1604.4,836.8 1606.6,836.3 1608.8,836.6 1611.0,837.1 1613.2,837.2 1615.4,836.7 1617.6,835.8 1619.8,835.2 1622.0,835.3 1624.2,835.7 1626.4,835.8 1628.6,835.1 1630.8,834.0 1633.0,833.2 1635.2,832.3 1637.4,831.2 1639.6,829.9 1641.8,828.3 1644.0,826.1 1646.2,823.0 1648.4,819.4 1650.6,815.4 1652.8,810.8 1655.0,805.9 1657.2,800.0 1659.4,793.3 1661.6,785.9 1663.8,778.4 1666.0,771.2 1668.2,764.4 1670.4,759.2 1672.6,756.1 1674.8,754.3 1677.0,755.0 1679.2,759.0 1681.4,765.5 1683.6,773.1 1685.8,780.7 1688.0,787.9 1690.2,793.9 1692.4,798.1 1694.6,800.8 1696.8,802.5 1699.0,803.9 1701.2,804.6 1703.4,803.9 1705.6,802.0 1707.8,799.7 1710.0,797.4 1712.2,794.5 1714.4,791.3 1716.6,788.5 1718.8,786.6 1721.0,785.3 1723.2,784.1 1725.4,783.1 1727.6,782.4 1729.8,782.0 1732.0,781.8 1734.2,781.8 1736.4,782.1 1738.6,782.8 1740.8,783.6 1743.0,784.3 1745.2,785.0 1747.4,785.3 1749.6,784.3 1751.8,781.2 1754.0,776.4 1756.2,770.7 1758.4,764.5 1760.6,757.7 1762.8,750.3 1765.0,742.5 1767.2,735.5 1769.4,730.7 1771.6,728.5 1773.8,728.3 1776.0,730.6 1778.2,736.3 1780.4,745.9 1782.6,758.2 1784.8,771.0 1787.0,782.4 1789.2,792.1 1791.4,800.5 1793.6,807.9 1795.8,814.1 1798.0,818.9 1800.2,822.7 1802.4,825.5 1804.6,827.7 1806.8,829.5 1809.0,831.2 1811.2,832.7 1813.4,834.2 1815.6,835.6 1817.8,836.5 1820.0,836.6 1822.2,836.4 1824.4,836.2 1826.6,836.3 1828.8,837.2 1831.0,838.7 1833.2,840.1 1835.4,840.4 1837.6,839.8 1839.8,839.2 1842.0,839.0 1844.2,839.6 1846.4,840.3 1848.6,840.9 1850.8,841.0 1853.0,840.8 1855.2,840.5 1857.4,840.3 1859.6,840.3 1861.8,840.2 1864.0,839.9 1866.2,839.6 1868.4,840.2 1870.6,841.1 1872.8,841.2 1875.0,840.9 1877.2,841.3 1879.4,842.3 1881.6,842.9 1883.8,842.4 1886.0,841.5 1888.2,840.6 1890.4,839.7 1892.6,838.7 1894.8,838.2 1897.0,837.9 1899.2,837.0 1901.4,835.7 1903.6,834.8 1905.8,834.7 1908.0,834.5 1910.2,833.6 1912.4,832.5 1914.6,831.6 1916.8,830.9 1919.0,830.6 1921.2,830.9 1923.4,831.5 1925.6,832.4 1927.8,833.6 1930.0,834.8 1932.2,835.3 1934.4,835.3 1936.6,835.5 1938.8,836.1 1941.0,836.8 1943.2,837.7 1945.4,838.8 1947.6,839.7 1949.8,840.2 1952.0,841.1 1954.2,842.2 1956.4,842.9 1958.6,842.8 1960.8,842.7 1963.0,843.3 1965.2,844.0 1967.4,844.2 1969.6,843.7 1971.8,843.0 1974.0,843.3 1976.2,844.3 1978.4,845.2 1980.6,845.9 1982.8,846.5 1985.0,847.0 1987.2,847.0 1989.4,846.2 1991.6,845.2 1993.8,845.0 1996.0,845.7 1998.2,846.5 2000.4,846.2 2002.6,845.5 2004.8,845.1 2007.0,845.4 2009.2,846.1 2011.4,846.4 2013.6,846.4 2015.8,846.6 2018.0,847.3 2020.2,848.0 2022.4,847.9 2024.6,847.3 2026.8,847.1 2029.0,847.3 2031.2,847.6 2033.4,847.8 2035.6,848.0 2037.8,848.0 2040.0,847.6 2042.2,847.2 2044.4,846.6 2046.6,846.2 2048.8,845.7 2051.0,845.2 2053.2,845.0 2055.4,845.2 2057.6,845.6 2059.8,845.9 2062.0,846.2 2064.2,846.7 2066.4,847.2 2068.6,847.3 2070.8,846.9 2073.0,846.2 2075.2,845.9 2077.4,846.3 2079.6,847.2 2081.8,848.1 2084.0,848.6 2086.2,848.7 2088.4,848.4 2090.6,848.0 2092.8,847.4 2095.0,846.8 2097.2,846.6 2099.4,846.5 2101.6,846.5 2103.8,846.3 2106.0,846.3 2108.2,846.5 2110.4,847.5 2112.6,848.8 2114.8,849.6 2117.0,849.2 2119.2,848.2 2121.4,847.9 2123.6,848.5 2125.8,849.0 2128.0,848.6 2130.2,847.8 2132.4,847.4 2134.6,847.7 2136.8,848.2 2139.0,848.2 2141.2,848.0 2143.4,848.1 2145.6,848.5 2147.8,848.7 2150.0,848.7 2152.2,848.7 2154.4,848.6 2156.6,848.1 2158.8,847.4 2161.0,846.6 2163.2,845.7 2165.4,845.3 2167.6,845.7 2169.8,846.9 2172.0,847.9 2174.2,848.2 2176.4,848.0 2178.6,847.9 2180.8,848.2 2183.0,848.8 2185.2,849.1 2187.4,849.1 2189.6,849.0 2191.8,849.0 2194.0,849.0 2196.2,849.2 2198.4,849.4 2200.6,849.6 2202.8,849.5 2205.0,848.9 2207.2,848.1 2209.4,847.4 2211.6,847.0 2213.8,847.1 2216.0,847.4 2218.2,847.9 2220.4,848.2 2222.6,848.5 2224.8,848.9 2227.0,848.8 2229.2,848.1 2231.4,847.6 2233.6,848.1 2235.8,849.2 2238.0,849.8 2240.2,849.4 2242.4,848.9 2244.6,848.7 2246.8,848.7 2249.0,848.1 2251.2,847.4 2253.4,847.8 2255.6,848.8 2257.8,849.2 2260.0,849.3 2262.2,849.5 2264.4,849.8 2266.6,849.8 2268.8,850.0 2271.0,850.7 2273.2,851.0 2275.4,851.1 2277.6,851.0 2279.8,850.6 2282.0,850.0 2284.2,849.5 2286.4,849.1 2288.6,849.0 2290.8,848.8 2293.0,848.5 2295.2,848.0 2297.4,847.8 2299.6,848.0 2301.8,848.4 2304.0,848.5 2306.2,848.4 2308.4,848.3 2310.6,848.3 2312.8,848.3 2315.0,848.4 2317.2,848.6 2319.4,848.9 2321.6,849.0 2323.8,849.0 2326.0,849.0 2328.2,849.2 2330.4,849.2 2332.6,848.9 2334.8,848.6 2337.0,848.2 2339.2,847.8 2341.4,847.5 2343.6,847.8 2345.8,848.4 2348.0,848.7 2350.2,848.5 2352.4,848.3 2354.6,849.1 2356.8,850.2 2359.0,850.5 2361.2,850.1 2363.4,849.9 2365.6,850.3 2367.8,851.0 2370.0,851.1 2372.2,850.7 2374.4,850.1 2376.6,850.0 2378.8,850.3 2381.0,850.4 2383.2,849.9 2385.4,849.0 2387.6,848.1 2389.8,847.5 2392.0,847.7 2394.2,849.1 2396.4,850.6 2398.6,851.3 2400.8,851.0 2403.0,850.4 2405.2,849.6 2407.4,848.8 2409.6,848.2"/>
<path class="cv" stroke="#ff00ff" stroke-width="7.0" d="M203.0,461.1 205.2,461.4 207.4,461.2 209.6,461.1 211.8,462.0 214.0,463.2 216.2,463.8 218.4,463.5 220.6,462.5 222.8,461.0 225.0,459.7 227.2,459.0 229.4,459.3 231.6,459.9 233.8,460.4 236.0,460.7 238.2,460.8 240.4,460.7 242.6,460.6 244.8,461.1 247.0,461.5 249.2,461.2 251.4,460.6 253.6,460.8 255.8,461.4 258.0,462.0 260.2,462.0 262.4,461.6 264.6,461.2 266.8,461.0 269.0,460.9 271.2,460.7 273.4,460.9 275.6,461.5 277.8,461.7 280.0,461.5 282.2,461.4 284.4,461.9 286.6,462.4 288.8,462.6 291.0,462.7 293.2,462.8 295.4,462.8 297.6,462.5 299.8,462.1 302.0,461.9 304.2,461.5 306.4,460.7 308.6,459.9 310.8,459.5 313.0,459.0 315.2,458.6 317.4,458.9 319.6,459.4 321.8,459.7 324.0,459.7 326.2,459.6 328.4,459.5 330.6,459.2 332.8,459.1 335.0,459.3 337.2,459.8 339.4,460.7 341.6,461.6 343.8,462.1 346.0,462.2 348.2,462.1 350.4,461.7 352.6,461.2 354.8,460.9 357.0,460.6 359.2,460.4 361.4,460.4 363.6,460.7 365.8,461.1 368.0,460.7 370.2,459.9 372.4,459.9 374.6,460.2 376.8,460.1 379.0,459.6 381.2,459.3 383.4,459.5 385.6,459.5 387.8,459.5 390.0,459.3 392.2,459.0 394.4,458.9 396.6,458.8 398.8,458.8 401.0,459.0 403.2,459.3 405.4,459.4 407.6,459.2 409.8,459.0 412.0,459.3 414.2,459.7 416.4,459.9 418.6,460.1 420.8,460.2 423.0,460.5 425.2,460.4 427.4,459.9 429.6,459.5 431.8,459.3 434.0,459.0 436.2,458.1 438.4,457.3 440.6,456.9 442.8,456.9 445.0,456.5 447.2,455.9 449.4,455.4 451.6,455.2 453.8,455.3 456.0,455.7 458.2,456.3 460.4,456.4 462.6,456.0 464.8,455.7 467.0,455.5 469.2,455.3 471.4,454.9 473.6,454.3 475.8,454.0 478.0,453.8 480.2,453.9 482.4,453.9 484.6,453.5 486.8,453.2 489.0,453.4 491.2,453.5 493.4,452.9 495.6,452.3 497.8,452.1 500.0,452.2 502.2,452.0 504.4,451.1 506.6,449.9 508.8,448.7 511.0,448.0 513.2,447.4 515.4,446.2 517.6,444.6 519.8,442.7 522.0,440.4 524.2,437.3 526.4,433.0 528.6,427.7 530.8,421.6 533.0,413.8 535.2,403.9 537.4,391.3 539.6,376.5 541.8,360.7 544.0,344.9 546.2,330.2 548.4,317.7 550.6,308.7 552.8,304.0 555.0,304.0 557.2,311.0 559.4,324.5 561.6,341.9 563.8,360.2 566.0,377.5 568.2,392.2 570.4,403.5 572.6,411.3 574.8,415.7 577.0,417.1 579.2,416.0 581.4,413.9 583.6,411.3 585.8,408.1 588.0,403.7 590.2,397.3 592.4,387.9 594.6,374.9 596.8,358.6 599.0,340.4 601.2,322.2 603.4,306.5 605.6,296.6 607.8,294.2 610.0,299.3 612.2,310.2 614.4,325.8 616.6,344.6 618.8,364.5 621.0,383.1 623.2,398.9 625.4,411.2 627.6,420.4 629.8,427.1 632.0,431.7 634.2,434.6 636.4,436.6 638.6,438.1 640.8,439.3 643.0,440.1 645.2,440.4 647.4,440.1 649.6,438.6 651.8,436.2 654.0,433.5 656.2,431.2 658.4,429.3 660.6,427.5 662.8,425.3 665.0,422.3 667.2,418.0 669.4,411.6 671.6,401.8 673.8,388.5 676.0,372.5 678.2,355.1 680.4,337.8 682.6,321.5 684.8,307.2 687.0,296.3 689.2,289.4 691.4,287.3 693.6,291.9 695.8,303.8 698.0,321.7 700.2,343.3 702.4,366.0 704.6,387.1 706.8,405.0 709.0,419.6 711.2,431.3 713.4,440.3 715.6,446.4 717.8,450.1 720.0,452.0 722.2,453.0 724.4,453.6 726.6,454.0 728.8,454.5 731.0,454.9 733.2,455.0 735.4,455.0 737.6,455.1 739.8,454.8 742.0,454.5 744.2,454.7 746.4,455.6 748.6,456.7 750.8,457.8 753.0,458.4 755.2,458.6 757.4,458.9 759.6,459.2 761.8,459.3 764.0,459.5 766.2,460.2 768.4,460.6 770.6,460.4 772.8,460.3 775.0,460.6 777.2,461.0 779.4,460.9 781.6,460.4 783.8,459.7 786.0,459.2 788.2,459.7 790.4,460.8 792.6,462.1 794.8,462.7 797.0,462.5 799.2,461.7 801.4,460.9 803.6,461.0 805.8,461.6 808.0,461.7 810.2,461.2 812.4,461.1 814.6,461.8 816.8,462.4 819.0,462.6 821.2,463.2 823.4,463.8 825.6,463.7 827.8,463.1 830.0,462.9 832.2,463.3 834.4,463.5 836.6,463.1 838.8,462.8 841.0,462.6 843.2,462.2 845.4,461.5 847.6,461.1 849.8,461.4 852.0,461.6 854.2,461.2 856.4,460.7 858.6,461.0 860.8,461.7 863.0,462.3 865.2,462.7 867.4,463.3 869.6,463.7 871.8,463.3 874.0,462.7 876.2,462.6 878.4,462.8 880.6,462.8 882.8,462.5 885.0,462.2 887.2,462.1 889.4,462.1 891.6,462.0 893.8,461.7 896.0,461.5 898.2,461.5 900.4,462.1 902.6,462.5 904.8,462.2 907.0,461.2 909.2,460.0 911.4,459.4 913.6,459.0 915.8,457.9 918.0,456.1 920.2,454.2 922.4,451.8 924.6,448.4 926.8,444.5 929.0,441.2 931.2,438.9 933.4,437.0 935.6,435.7 937.8,435.0 940.0,435.2 942.2,436.6 944.4,439.3 946.6,442.8 948.8,446.8 951.0,451.0 953.2,454.5 955.4,456.7 957.6,457.6 959.8,457.4 962.0,457.4 964.2,458.6 966.4,460.8 968.6,462.4 970.8,463.0 973.0,463.2 975.2,463.6 977.4,463.7 979.6,463.1 981.8,463.0 984.0,463.9 986.2,464.9 988.4,465.3 990.6,465.1 992.8,465.0 995.0,464.9 997.2,464.6 999.4,464.1 1001.6,464.1 1003.8,464.4 1006.0,464.7 1008.2,464.8 1010.4,464.6 1012.6,464.3 1014.8,464.2 1017.0,464.2 1019.2,464.1 1021.4,464.3 1023.6,464.7 1025.8,465.3 1028.0,466.0 1030.2,466.5 1032.4,466.8 1034.6,466.6 1036.8,466.6 1039.0,467.4 1041.2,468.4 1043.4,469.1 1045.6,469.1 1047.8,468.4 1050.0,467.8 1052.2,467.6 1054.4,467.6 1056.6,467.2 1058.8,466.7 1061.0,467.0 1063.2,468.0 1065.4,468.8 1067.6,468.6 1069.8,467.6 1072.0,466.9 1074.2,466.9 1076.4,467.5 1078.6,468.1 1080.8,468.1 1083.0,467.7 1085.2,467.3 1087.4,467.1 1089.6,466.8 1091.8,466.3 1094.0,466.2 1096.2,466.4 1098.4,466.4 1100.6,466.1 1102.8,466.2 1105.0,466.5 1107.2,466.4 1109.4,466.0 1111.6,465.5 1113.8,465.0 1116.0,464.6 1118.2,464.3 1120.4,464.1 1122.6,463.8 1124.8,463.4 1127.0,463.1 1129.2,462.6 1131.4,461.8 1133.6,461.4 1135.8,461.4 1138.0,461.7 1140.2,461.9 1142.4,461.1 1144.6,459.3 1146.8,457.5 1149.0,456.0 1151.2,454.3 1153.4,451.6 1155.6,448.4 1157.8,445.6 1160.0,443.7 1162.2,442.0 1164.4,440.0 1166.6,437.7 1168.8,435.4 1171.0,433.7 1173.2,432.7 1175.4,432.6 1177.6,432.6 1179.8,432.7 1182.0,433.2 1184.2,434.8 1186.4,437.1 1188.6,439.1 1190.8,440.6 1193.0,442.1 1195.2,444.2 1197.4,446.5 1199.6,448.6 1201.8,451.0 1204.0,453.9 1206.2,456.3 1208.4,457.7 1210.6,458.5 1212.8,459.9 1215.0,461.7 1217.2,462.8 1219.4,463.1 1221.6,463.7 1223.8,465.1 1226.0,466.6 1228.2,467.4 1230.4,467.7 1232.6,468.1 1234.8,468.6 1237.0,469.0 1239.2,469.0 1241.4,468.8 1243.6,468.6 1245.8,468.5 1248.0,468.8 1250.2,469.6 1252.4,470.6 1254.6,470.7 1256.8,470.3 1259.0,470.0 1261.2,470.2 1263.4,470.4 1265.6,470.4 1267.8,470.4 1270.0,470.4 1272.2,470.7 1274.4,470.9 1276.6,470.7 1278.8,470.3 1281.0,470.5 1283.2,471.3 1285.4,471.7 1287.6,471.5 1289.8,471.3 1292.0,471.5 1294.2,471.8 1296.4,472.3 1298.6,473.1 1300.8,473.4 1303.0,473.1 1305.2,472.4 1307.4,472.2 1309.6,472.3 1311.8,472.3 1314.0,471.9 1316.2,471.5 1318.4,471.7 1320.6,472.6 1322.8,473.6 1325.0,473.8 1327.2,473.3 1329.4,473.1 1331.6,473.4 1333.8,474.0 1336.0,474.6 1338.2,474.8 1340.4,474.4 1342.6,473.6 1344.8,473.0 1347.0,473.2 1349.2,473.9 1351.4,474.6 1353.6,474.9 1355.8,474.9 1358.0,474.4 1360.2,473.9 1362.4,473.5 1364.6,473.2 1366.8,472.7 1369.0,472.1 1371.2,471.7 1373.4,471.8 1375.6,472.1 1377.8,472.3 1380.0,472.0 1382.2,471.6 1384.4,471.4 1386.6,471.6 1388.8,472.3 1391.0,473.2 1393.2,474.0 1395.4,474.7 1397.6,475.0 1399.8,474.7 1402.0,473.8 1404.2,473.3 1406.4,473.6 1408.6,473.7 1410.8,473.6 1413.0,473.3 1415.2,472.8 1417.4,472.9 1419.6,473.8 1421.8,475.1 1424.0,476.0 1426.2,476.5 1428.4,476.7 1430.6,476.4 1432.8,476.0 1435.0,475.9 1437.2,476.2 1439.4,476.6 1441.6,476.7 1443.8,476.6 1446.0,476.5 1448.2,475.8 1450.4,474.7 1452.6,474.3 1454.8,474.4 1457.0,474.3 1459.2,473.7 1461.4,473.7 1463.6,474.4 1465.8,474.8 1468.0,474.6 1470.2,474.0 1472.4,473.5 1474.6,473.4 1476.8,473.7 1479.0,474.4 1481.2,475.0 1483.4,474.9 1485.6,474.5 1487.8,474.4 1490.0,474.8 1492.2,475.2 1494.4,475.2 1496.6,474.7 1498.8,474.2 1501.0,473.7 1503.2,473.5 1505.4,473.6 1507.6,473.8 1509.8,474.6 1512.0,475.5 1514.2,476.1 1516.4,476.4 1518.6,476.2 1520.8,475.8 1523.0,475.6 1525.2,475.8 1527.4,476.0 1529.6,475.8 1531.8,475.5 1534.0,475.7 1536.2,476.2 1538.4,476.2 1540.6,475.5 1542.8,474.5 1545.0,474.2 1547.2,474.9 1549.4,475.9 1551.6,476.4 1553.8,476.2 1556.0,476.0 1558.2,476.1 1560.4,476.1 1562.6,476.1 1564.8,476.5 1567.0,477.1 1569.2,477.3 1571.4,476.6 1573.6,476.0 1575.8,476.3 1578.0,477.2 1580.2,478.0 1582.4,477.8 1584.6,476.9 1586.8,476.1 1589.0,475.7 1591.2,475.4 1593.4,475.1 1595.6,475.1 1597.8,474.7 1600.0,473.7 1602.2,472.6 1604.4,472.5 1606.6,473.2 1608.8,473.8 1611.0,474.0 1613.2,474.0 1615.4,474.3 1617.6,474.3 1619.8,474.0 1622.0,473.5 1624.2,472.8 1626.4,472.0 1628.6,471.4 1630.8,470.8 1633.0,469.6 1635.2,467.8 1637.4,466.3 1639.6,465.5 1641.8,465.0 1644.0,464.2 1646.2,463.5 1648.4,462.5 1650.6,460.7 1652.8,457.3 1655.0,452.8 1657.2,447.7 1659.4,441.8 1661.6,434.1 1663.8,424.2 1666.0,413.4 1668.2,403.9 1670.4,397.2 1672.6,394.3 1674.8,395.1 1677.0,398.5 1679.2,403.7 1681.4,410.1 1683.6,417.4 1685.8,424.9 1688.0,431.3 1690.2,436.7 1692.4,441.5 1694.6,445.2 1696.8,446.6 1699.0,445.7 1701.2,444.0 1703.4,443.0 1705.6,442.5 1707.8,442.1 1710.0,441.4 1712.2,440.1 1714.4,438.2 1716.6,435.8 1718.8,433.6 1721.0,431.6 1723.2,429.8 1725.4,428.3 1727.6,427.4 1729.8,426.7 1732.0,425.8 1734.2,424.8 1736.4,424.4 1738.6,424.7 1740.8,425.7 1743.0,426.9 1745.2,427.9 1747.4,428.0 1749.6,427.0 1751.8,425.0 1754.0,422.3 1756.2,418.0 1758.4,411.1 1760.6,402.2 1762.8,393.1 1765.0,384.3 1767.2,376.6 1769.4,371.3 1771.6,369.7 1773.8,371.6 1776.0,375.8 1778.2,382.3 1780.4,391.1 1782.6,401.1 1784.8,410.9 1787.0,420.2 1789.2,429.4 1791.4,438.3 1793.6,446.2 1795.8,452.2 1798.0,457.1 1800.2,461.6 1802.4,465.1 1804.6,467.1 1806.8,468.2 1809.0,469.6 1811.2,471.3 1813.4,473.0 1815.6,474.1 1817.8,474.5 1820.0,474.8 1822.2,475.2 1824.4,475.6 1826.6,475.9 1828.8,476.1 1831.0,476.3 1833.2,476.1 1835.4,475.7 1837.6,475.9 1839.8,476.7 1842.0,477.4 1844.2,478.2 1846.4,479.1 1848.6,480.0 1850.8,480.2 1853.0,479.4 1855.2,478.6 1857.4,478.3 1859.6,478.9 1861.8,480.2 1864.0,481.0 1866.2,480.9 1868.4,480.3 1870.6,480.2 1872.8,480.9 1875.0,481.8 1877.2,482.0 1879.4,481.9 1881.6,481.9 1883.8,482.4 1886.0,482.8 1888.2,482.5 1890.4,481.8 1892.6,480.9 1894.8,480.1 1897.0,479.4 1899.2,478.4 1901.4,477.0 1903.6,475.7 1905.8,474.4 1908.0,473.3 1910.2,471.9 1912.4,470.6 1914.6,469.1 1916.8,467.7 1919.0,467.1 1921.2,467.0 1923.4,466.9 1925.6,466.7 1927.8,467.1 1930.0,468.3 1932.2,470.0 1934.4,471.4 1936.6,472.2 1938.8,472.9 1941.0,474.1 1943.2,475.5 1945.4,476.8 1947.6,477.9 1949.8,478.8 1952.0,479.4 1954.2,480.1 1956.4,481.0 1958.6,482.1 1960.8,483.2 1963.0,483.5 1965.2,483.1 1967.4,482.7 1969.6,483.2 1971.8,484.0 1974.0,484.5 1976.2,484.4 1978.4,484.3 1980.6,484.7 1982.8,485.3 1985.0,485.7 1987.2,485.7 1989.4,485.8 1991.6,485.8 1993.8,485.7 1996.0,485.5 1998.2,485.3 2000.4,485.5 2002.6,485.7 2004.8,485.7 2007.0,485.6 2009.2,485.8 2011.4,486.2 2013.6,486.4 2015.8,486.4 2018.0,486.3 2020.2,486.4 2022.4,486.3 2024.6,485.9 2026.8,485.4 2029.0,485.2 2031.2,485.5 2033.4,485.5 2035.6,485.2 2037.8,485.4 2040.0,485.7 2042.2,485.9 2044.4,485.9 2046.6,485.9 2048.8,486.3 2051.0,486.5 2053.2,486.4 2055.4,485.9 2057.6,485.3 2059.8,484.9 2062.0,485.1 2064.2,485.8 2066.4,486.5 2068.6,486.5 2070.8,486.1 2073.0,485.8 2075.2,486.0 2077.4,486.2 2079.6,486.3 2081.8,486.7 2084.0,487.4 2086.2,488.1 2088.4,488.3 2090.6,488.1 2092.8,487.8 2095.0,488.1 2097.2,488.4 2099.4,488.0 2101.6,487.0 2103.8,486.3 2106.0,486.5 2108.2,486.9 2110.4,486.7 2112.6,485.8 2114.8,485.0 2117.0,484.7 2119.2,484.7 2121.4,484.8 2123.6,485.0 2125.8,485.4 2128.0,485.2 2130.2,484.8 2132.4,485.1 2134.6,486.3 2136.8,487.4 2139.0,487.5 2141.2,487.0 2143.4,487.0 2145.6,487.4 2147.8,487.4 2150.0,486.9 2152.2,486.4 2154.4,486.7 2156.6,487.4 2158.8,487.8 2161.0,488.0 2163.2,488.2 2165.4,488.4 2167.6,488.4 2169.8,488.3 2172.0,488.3 2174.2,488.1 2176.4,487.3 2178.6,486.4 2180.8,485.8 2183.0,486.0 2185.2,486.5 2187.4,486.7 2189.6,486.8 2191.8,487.0 2194.0,487.1 2196.2,487.1 2198.4,487.1 2200.6,487.5 2202.8,487.6 2205.0,486.9 2207.2,486.1 2209.4,485.8 2211.6,486.2 2213.8,486.8 2216.0,487.4 2218.2,487.7 2220.4,487.9 2222.6,488.1 2224.8,488.7 2227.0,489.1 2229.2,488.8 2231.4,487.9 2233.6,487.5 2235.8,487.8 2238.0,488.2 2240.2,488.0 2242.4,487.6 2244.6,487.4 2246.8,487.7 2249.0,488.1 2251.2,488.7 2253.4,489.1 2255.6,489.1 2257.8,488.8 2260.0,488.2 2262.2,487.8 2264.4,487.6 2266.6,487.5 2268.8,487.5 2271.0,487.6 2273.2,487.7 2275.4,487.4 2277.6,486.7 2279.8,486.2 2282.0,486.3 2284.2,486.9 2286.4,487.5 2288.6,487.9 2290.8,488.0 2293.0,488.0 2295.2,488.4 2297.4,488.9 2299.6,488.9 2301.8,488.6 2304.0,488.2 2306.2,487.8 2308.4,487.6 2310.6,487.3 2312.8,486.9 2315.0,486.4 2317.2,485.8 2319.4,485.7 2321.6,486.3 2323.8,486.8 2326.0,487.0 2328.2,486.8 2330.4,486.7 2332.6,487.1 2334.8,487.7 2337.0,487.7 2339.2,487.1 2341.4,486.7 2343.6,486.9 2345.8,487.4 2348.0,487.4 2350.2,487.0 2352.4,486.6 2354.6,486.5 2356.8,486.9 2359.0,487.5 2361.2,487.9 2363.4,488.0 2365.6,488.0 2367.8,488.1 2370.0,488.3 2372.2,488.6 2374.4,488.9 2376.6,488.9 2378.8,488.9 2381.0,488.7 2383.2,488.3 2385.4,487.5 2387.6,486.8 2389.8,486.7 2392.0,487.2 2394.2,487.8 2396.4,488.4 2398.6,488.9 2400.8,489.2 2403.0,489.3 2405.2,489.0 2407.4,488.3 2409.6,487.6"/>
</g>
<defs><clipPath id="cp"><rect x="203" y="40" width="2207" height="1625"/></clipPath></defs>
<g fill="#000">
<rect x="200" y="35" width="6" height="1635"/>
<rect x="2407" y="35" width="6" height="1635"/>
<rect x="200" y="35" width="2213" height="7"/>
<rect x="200" y="1664" width="2213" height="6"/>
<rect x="751.0" y="1632" width="7" height="33"/>
<rect x="1302.8" y="1632" width="7" height="33"/>
<rect x="1854.5" y="1632" width="7" height="33"/>
</g>
<text x="203" y="1756" font-size="72.5" text-anchor="middle">20</text>
<text x="754.5" y="1756" font-size="72.5" text-anchor="middle">25</text>
<text x="1306.3" y="1756" font-size="72.5" text-anchor="middle">30</text>
<text x="1858" y="1756" font-size="72.5" text-anchor="middle">35</text>
<text x="2410" y="1756" font-size="72.5" text-anchor="middle">40</text>
<text x="1224" y="1902" font-size="97.7">2</text>
<text class="ser" transform="translate(1276.3,1902) scale(1.12,1)" font-size="92.5">θ</text>
<text transform="translate(1326.3,1901.3) scale(1.06,1)" font-size="92.5">/</text>
<text class="ser" x="1351.3" y="1900.4" font-size="83.5">°</text>
<text transform="translate(100,1113) rotate(-90)" font-size="92.6">Intensity/a.u.</text>
<text x="266.5" y="414.5" font-size="81">(<tspan dx="2">d</tspan><tspan dx="5.5">)</tspan></text>
<text x="268" y="780.5" font-size="81">(<tspan dx="2">c</tspan><tspan dx="5.5">)</tspan></text>
<text x="268" y="1148" font-size="81">(<tspan dx="2">b</tspan><tspan dx="5.5">)</tspan></text>
<text x="267" y="1506.5" font-size="81">(<tspan dx="2">a</tspan><tspan dx="5.5">)</tspan></text>
<text x="1977" y="452" font-size="68.6">S(<tspan class="r">5</tspan>, 0.5, 500)</text>
<text x="1975" y="812.5" font-size="68.6">S(<tspan class="r">4</tspan>, 0.5, 500)</text>
<text x="1977" y="1176" font-size="68.6">S(<tspan class="r">3</tspan>, 0.5, 500)</text>
<text x="1975" y="1535.5" font-size="68.6">S(<tspan class="r">2</tspan>, 0.5, 500)</text>
<text transform="translate(560.4,301) rotate(-90)" font-size="68.6">(002)</text>
<text transform="translate(635.2,288) rotate(-90)" font-size="68.6">(020)</text>
<text transform="translate(713.5,281) rotate(-90)" font-size="68.6">(200)</text>
<text transform="translate(960.3,424) rotate(-90)" font-size="68.6">(120)</text>
<text transform="translate(1196,425) rotate(-90)" font-size="68.6">(-112)</text>
<text transform="translate(1658.4,402) rotate(-90)" font-size="68.6">(022)</text>
<text transform="translate(1740.6,416) rotate(-90)" font-size="68.6">(-202)</text>
<text transform="translate(1810.4,368) rotate(-90)" font-size="68.6">(202)</text>
<text transform="translate(1940.4,456) rotate(-90)" font-size="68.6">(122)</text>
</svg></body></html>
